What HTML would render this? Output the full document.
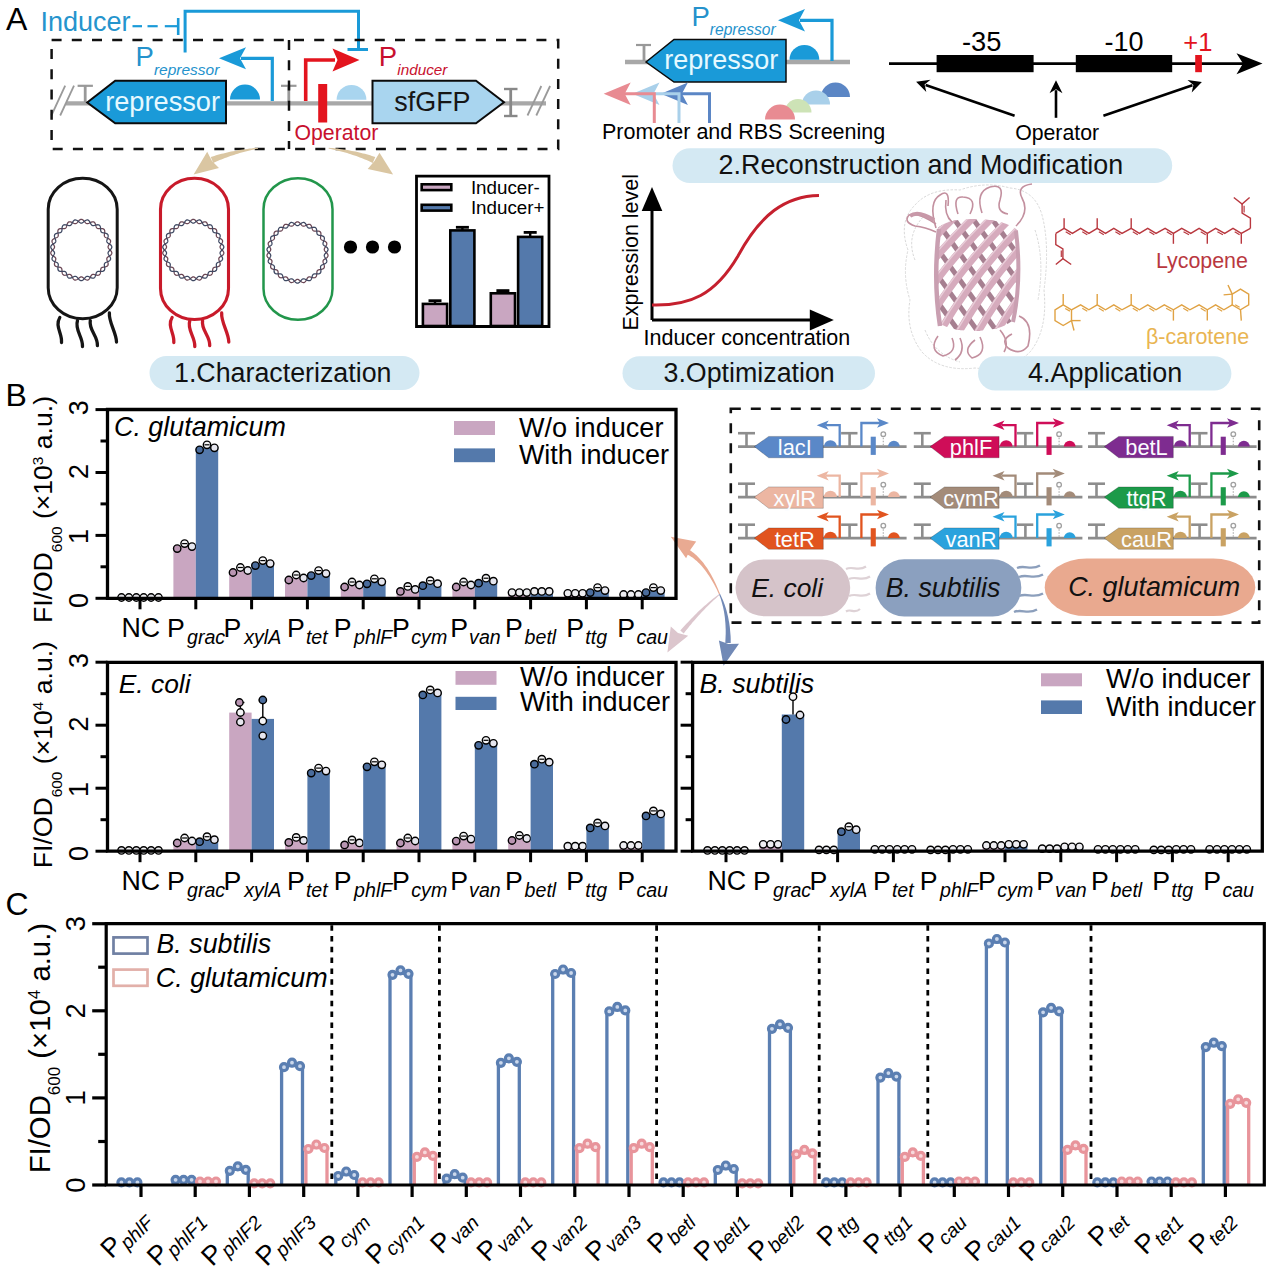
<!DOCTYPE html>
<html><head><meta charset="utf-8"><style>
html,body{margin:0;padding:0;background:#fff;overflow:hidden;}
svg{display:block;}
</style></head><body>
<svg width="1268" height="1271" viewBox="0 0 1268 1271" font-family='"Liberation Sans", sans-serif'>
<rect width="1268" height="1271" fill="#fff"/>
<text x="5.9" y="30.0" font-size="32">A</text>
<text x="40.5" y="31.0" font-size="27" fill="#2594cd">Inducer</text>
<line x1="132.5" y1="26.2" x2="142.0" y2="26.2" stroke="#1a9ad8" stroke-width="2.2" />
<line x1="147.5" y1="26.2" x2="157.7" y2="26.2" stroke="#1a9ad8" stroke-width="2.2" />
<line x1="164.8" y1="26.2" x2="177.0" y2="26.2" stroke="#1a9ad8" stroke-width="2.2" />
<line x1="178.2" y1="18.0" x2="178.2" y2="35.0" stroke="#1a9ad8" stroke-width="2.6" />
<path d="M185.1,52.5 V11.2 H358.5 V49.5" fill="none" stroke="#1a9ad8" stroke-width="3" />
<line x1="347.5" y1="49.5" x2="368.0" y2="49.5" stroke="#1a9ad8" stroke-width="3" />
<line x1="66.0" y1="103.3" x2="546.0" y2="103.3" stroke="#a8a8a8" stroke-width="4.3" />
<line x1="51.4" y1="115.5" x2="65.2" y2="85.6" stroke="#9a9a9a" stroke-width="1.8" />
<line x1="527.5" y1="115.5" x2="541.3" y2="86.0" stroke="#9a9a9a" stroke-width="1.8" />
<line x1="60.2" y1="115.5" x2="74.0" y2="85.6" stroke="#9a9a9a" stroke-width="1.8" />
<line x1="536.3" y1="115.5" x2="550.1" y2="86.0" stroke="#9a9a9a" stroke-width="1.8" />
<line x1="77.6" y1="85.8" x2="92.9" y2="85.8" stroke="#999" stroke-width="2.2" />
<line x1="85.2" y1="85.8" x2="85.2" y2="102.0" stroke="#999" stroke-width="2.8" />
<line x1="281.0" y1="85.8" x2="296.5" y2="85.8" stroke="#999" stroke-width="2.2" />
<line x1="288.8" y1="85.8" x2="288.8" y2="102.0" stroke="#999" stroke-width="2.8" />
<line x1="504.0" y1="89.0" x2="517.5" y2="89.0" stroke="#888" stroke-width="2.4" />
<line x1="504.0" y1="116.0" x2="517.5" y2="116.0" stroke="#888" stroke-width="2.4" />
<line x1="510.7" y1="89.0" x2="510.7" y2="116.0" stroke="#888" stroke-width="2.8" />
<path d="M87.2,102.5 L115.2,80.7 H226 V123.3 H115.2 Z" fill="#1a9ad8" stroke="#0b0b0b" stroke-width="2" />
<text x="105.2" y="110.5" font-size="27.2" fill="#e6f9ff">repressor</text>
<path d="M230,99.6 A15,15 0 0 1 260,99.6 Z" fill="#1a9ad8" stroke="none" stroke-width="0" />
<path d="M336.6,99.8 A14.9,14.9 0 0 1 366.4,99.8 Z" fill="#a9d5ef" stroke="none" stroke-width="0" />
<path d="M272.3,101 V58.3 H241" fill="none" stroke="#1a9ad8" stroke-width="3.2" />
<path d="M219.0,58.3 L246.0,47.3 L240.0,58.3 L246.0,69.3 Z" fill="#1a9ad8" stroke="none" stroke-width="0" />
<text x="135.6" y="66.3" font-size="27.5" fill="#2592cc">P</text>
<text x="153.9" y="74.5" font-size="15.5" fill="#2592cc" font-style="italic">repressor</text>
<path d="M305.7,101 V60 H335" fill="none" stroke="#e3141e" stroke-width="3.6" />
<path d="M359.5,60.0 L332.5,48.5 L337.5,60.0 L332.5,71.5 Z" fill="#e3141e" stroke="none" stroke-width="0" />
<text x="378.7" y="66.3" font-size="27.5" fill="#c8102e">P</text>
<text x="397.3" y="74.5" font-size="15.3" fill="#c8102e" font-style="italic">inducer</text>
<rect x="318.2" y="84.0" width="9.0" height="38.5" fill="#e3141e" stroke="none" stroke-width="0" rx="0" />
<text x="294.5" y="140.3" font-size="21.25" fill="#c8102e">Operator</text>
<path d="M372.5,80.7 H476 L504,102.3 L476,123.3 H372.5 Z" fill="#a9d5ef" stroke="#0b0b0b" stroke-width="2" />
<text x="394.3" y="110.5" font-size="26.9" fill="#161616">sfGFP</text>
<path d="M51.6,40.1 H558.2 V149 H51.6 Z" fill="none" stroke="#111" stroke-width="2.5" stroke-dasharray="10,10.2"/>
<line x1="289.0" y1="40.1" x2="289.0" y2="149.0" stroke="#111" stroke-width="2.5" stroke-dasharray="10,10.2"/>
<path d="M257.9,147.7 L255.7,147.9 L253.6,148.1 L251.5,148.4 L249.3,148.6 L247.2,148.9 L245.1,149.2 L243.1,149.5 L241.0,149.8 L239.0,150.1 L237.0,150.5 L235.0,150.9 L233.0,151.2 L231.1,151.6 L229.1,152.0 L227.2,152.5 L225.3,152.9 L223.4,153.4 L221.6,153.8 L219.7,154.3 L217.9,154.8 L216.1,155.3 L214.3,155.9 L212.5,156.4 L210.8,157.0 L213.2,163.0 L214.8,162.3 L216.4,161.5 L218.1,160.8 L219.7,160.1 L221.4,159.4 L223.2,158.7 L224.9,158.0 L226.7,157.4 L228.5,156.7 L230.3,156.1 L232.1,155.5 L234.0,154.9 L235.8,154.3 L237.8,153.7 L239.7,153.1 L241.6,152.6 L243.6,152.0 L245.6,151.5 L247.6,151.0 L249.7,150.5 L251.7,150.0 L253.8,149.6 L255.9,149.1 L258.1,148.7 Z" fill="#dac6a2" stroke="none" stroke-width="0" />
<path d="M193.6,174.5 L207.2,151.8 L212.0,161.0 L219.0,168.1 Z" fill="#dac6a2" stroke="none" stroke-width="0" />
<path d="M328.6,148.7 L330.8,149.1 L332.9,149.6 L335.0,150.0 L337.1,150.5 L339.1,151.0 L341.2,151.5 L343.2,152.0 L345.1,152.6 L347.1,153.1 L349.0,153.7 L350.8,154.3 L352.7,154.9 L354.5,155.5 L356.3,156.1 L358.1,156.7 L359.8,157.4 L361.5,158.0 L363.2,158.7 L364.9,159.4 L366.5,160.1 L368.1,160.8 L369.7,161.5 L371.2,162.2 L372.7,163.0 L375.3,157.0 L373.6,156.4 L371.9,155.9 L370.2,155.3 L368.4,154.8 L366.6,154.3 L364.9,153.8 L363.0,153.4 L361.2,152.9 L359.4,152.5 L357.5,152.0 L355.6,151.6 L353.6,151.2 L351.7,150.9 L349.7,150.5 L347.7,150.1 L345.7,149.8 L343.7,149.5 L341.6,149.2 L339.5,148.9 L337.4,148.6 L335.3,148.4 L333.1,148.1 L331.0,147.9 L328.8,147.7 Z" fill="#dac6a2" stroke="none" stroke-width="0" />
<path d="M393.1,174.5 L379.5,152.7 L374.5,161.0 L367.7,169.0 Z" fill="#dac6a2" stroke="none" stroke-width="0" />
<rect x="48.2" y="178.2" width="69.0" height="140.5" fill="none" stroke="#151515" stroke-width="3.0" rx="34.5" ry="31"/>
<g transform="translate(0.0,0)">
<path d="M59.8,317.5 C54.5,326 62.5,334 61.5,342.5" fill="none" stroke="#151515" stroke-width="3.3" stroke-linecap="round"/>
<path d="M77.5,320.5 C74.5,330 83,337 82.5,346.5" fill="none" stroke="#151515" stroke-width="3.3" stroke-linecap="round"/>
<path d="M90.3,320.5 C88.5,330 98,336 97.4,345.6" fill="none" stroke="#151515" stroke-width="3.3" stroke-linecap="round"/>
<path d="M109.4,313 C108.5,322 116.5,333 116.5,342" fill="none" stroke="#151515" stroke-width="3.3" stroke-linecap="round"/>
</g>
<path d="M110.10,250.00 L110.59,250.51 L111.03,251.04 L111.40,251.58 L111.67,252.12 L111.82,252.67 L111.83,253.21 L111.71,253.73 L111.45,254.24 L111.07,254.72 L110.60,255.17 L110.05,255.59 L109.47,255.99 L108.88,256.37 L108.32,256.74 L107.82,257.11 L107.40,257.48 L107.09,257.88 L106.88,258.31 L106.80,258.78 L106.82,259.29 L106.93,259.84 L107.12,260.43 L107.36,261.06 L107.61,261.71 L107.85,262.38 L108.04,263.04 L108.16,263.68 L108.18,264.29 L108.09,264.85 L107.89,265.35 L107.56,265.78 L107.12,266.13 L106.58,266.42 L105.96,266.64 L105.29,266.80 L104.60,266.93 L103.91,267.04 L103.25,267.15 L102.64,267.28 L102.10,267.45 L101.65,267.69 L101.29,268.00 L101.02,268.39 L100.83,268.86 L100.71,269.41 L100.65,270.03 L100.61,270.70 L100.57,271.40 L100.52,272.11 L100.42,272.79 L100.27,273.43 L100.04,273.99 L99.74,274.47 L99.35,274.84 L98.87,275.09 L98.32,275.24 L97.72,275.28 L97.07,275.23 L96.39,275.11 L95.70,274.94 L95.02,274.76 L94.37,274.59 L93.76,274.46 L93.20,274.41 L92.70,274.44 L92.24,274.57 L91.84,274.82 L91.47,275.18 L91.14,275.63 L90.83,276.17 L90.52,276.77 L90.20,277.39 L89.86,278.01 L89.50,278.60 L89.10,279.12 L88.67,279.54 L88.19,279.85 L87.68,280.03 L87.15,280.07 L86.59,279.98 L86.02,279.77 L85.44,279.46 L84.87,279.07 L84.31,278.64 L83.77,278.20 L83.24,277.78 L82.74,277.42 L82.25,277.14 L81.77,276.96 L81.30,276.90 L80.83,276.96 L80.35,277.14 L79.86,277.42 L79.36,277.78 L78.83,278.20 L78.29,278.64 L77.73,279.07 L77.16,279.46 L76.58,279.77 L76.01,279.98 L75.45,280.07 L74.92,280.03 L74.41,279.85 L73.93,279.54 L73.50,279.12 L73.10,278.60 L72.74,278.01 L72.40,277.39 L72.08,276.77 L71.77,276.17 L71.46,275.63 L71.13,275.18 L70.76,274.82 L70.36,274.57 L69.90,274.44 L69.40,274.41 L68.84,274.46 L68.23,274.59 L67.58,274.76 L66.90,274.94 L66.21,275.11 L65.53,275.23 L64.88,275.28 L64.28,275.24 L63.73,275.09 L63.25,274.84 L62.86,274.47 L62.56,273.99 L62.33,273.43 L62.18,272.79 L62.08,272.11 L62.03,271.40 L61.99,270.70 L61.95,270.03 L61.89,269.41 L61.77,268.86 L61.58,268.39 L61.31,268.00 L60.95,267.69 L60.50,267.45 L59.96,267.28 L59.35,267.15 L58.69,267.04 L58.00,266.93 L57.31,266.80 L56.64,266.64 L56.02,266.42 L55.48,266.13 L55.04,265.78 L54.71,265.35 L54.51,264.85 L54.42,264.29 L54.44,263.68 L54.56,263.04 L54.75,262.38 L54.99,261.71 L55.24,261.06 L55.48,260.43 L55.67,259.84 L55.78,259.29 L55.80,258.78 L55.72,258.31 L55.51,257.88 L55.20,257.48 L54.78,257.11 L54.28,256.74 L53.72,256.37 L53.13,255.99 L52.55,255.59 L52.00,255.17 L51.53,254.72 L51.15,254.24 L50.89,253.73 L50.77,253.21 L50.78,252.67 L50.93,252.12 L51.20,251.58 L51.57,251.04 L52.01,250.51 L52.50,250.00 L53.00,249.51 L53.47,249.03 L53.88,248.56 L54.21,248.11 L54.44,247.65 L54.55,247.19 L54.54,246.71 L54.41,246.22 L54.18,245.70 L53.87,245.16 L53.51,244.60 L53.13,244.01 L52.76,243.41 L52.43,242.80 L52.18,242.20 L52.03,241.61 L52.00,241.04 L52.10,240.51 L52.33,240.03 L52.69,239.59 L53.16,239.20 L53.72,238.86 L54.34,238.55 L54.99,238.29 L55.64,238.04 L56.27,237.79 L56.84,237.54 L57.32,237.25 L57.72,236.93 L58.00,236.55 L58.19,236.11 L58.27,235.61 L58.27,235.05 L58.21,234.43 L58.11,233.76 L58.00,233.07 L57.91,232.37 L57.86,231.68 L57.87,231.03 L57.98,230.43 L58.18,229.90 L58.49,229.46 L58.89,229.11 L59.40,228.85 L59.99,228.69 L60.63,228.60 L61.32,228.58 L62.03,228.60 L62.73,228.64 L63.40,228.67 L64.02,228.66 L64.58,228.60 L65.07,228.47 L65.49,228.24 L65.83,227.91 L66.12,227.49 L66.35,226.97 L66.54,226.38 L66.72,225.74 L66.90,225.06 L67.10,224.38 L67.33,223.73 L67.62,223.14 L67.95,222.64 L68.35,222.24 L68.81,221.95 L69.33,221.80 L69.89,221.77 L70.50,221.86 L71.12,222.04 L71.76,222.30 L72.40,222.61 L73.02,222.93 L73.62,223.23 L74.19,223.48 L74.73,223.65 L75.23,223.73 L75.71,223.69 L76.15,223.53 L76.58,223.26 L77.00,222.88 L77.42,222.42 L77.85,221.90 L78.29,221.36 L78.75,220.82 L79.22,220.32 L79.72,219.90 L80.24,219.57 L80.77,219.37 L81.30,219.30 L81.83,219.37 L82.36,219.57 L82.88,219.90 L83.38,220.32 L83.85,220.82 L84.31,221.36 L84.75,221.90 L85.18,222.42 L85.60,222.88 L86.02,223.26 L86.45,223.53 L86.89,223.69 L87.37,223.73 L87.87,223.65 L88.41,223.48 L88.98,223.23 L89.58,222.93 L90.20,222.61 L90.84,222.30 L91.48,222.04 L92.10,221.86 L92.71,221.77 L93.27,221.80 L93.79,221.95 L94.25,222.24 L94.65,222.64 L94.98,223.14 L95.27,223.73 L95.50,224.38 L95.70,225.06 L95.88,225.74 L96.06,226.38 L96.25,226.97 L96.48,227.49 L96.77,227.91 L97.11,228.24 L97.53,228.47 L98.02,228.60 L98.58,228.66 L99.20,228.67 L99.87,228.64 L100.57,228.60 L101.28,228.58 L101.97,228.60 L102.61,228.69 L103.20,228.85 L103.71,229.11 L104.11,229.46 L104.42,229.90 L104.62,230.43 L104.73,231.03 L104.74,231.68 L104.69,232.37 L104.60,233.07 L104.49,233.76 L104.39,234.43 L104.33,235.05 L104.33,235.61 L104.41,236.11 L104.60,236.55 L104.88,236.93 L105.28,237.25 L105.76,237.54 L106.33,237.79 L106.96,238.04 L107.61,238.29 L108.26,238.55 L108.88,238.86 L109.44,239.20 L109.91,239.59 L110.27,240.03 L110.50,240.51 L110.60,241.04 L110.57,241.61 L110.42,242.20 L110.17,242.80 L109.84,243.41 L109.47,244.01 L109.09,244.60 L108.73,245.16 L108.42,245.70 L108.19,246.22 L108.06,246.71 L108.05,247.19 L108.16,247.65 L108.39,248.11 L108.72,248.56 L109.13,249.03 L109.60,249.51 L110.10,250.00 Z" fill="none" stroke="#6a4654" stroke-width="1.25" />
<path d="M110.10,250.00 L109.60,250.49 L109.13,250.97 L108.72,251.44 L108.39,251.89 L108.16,252.35 L108.05,252.81 L108.06,253.29 L108.19,253.78 L108.42,254.30 L108.73,254.84 L109.09,255.40 L109.47,255.99 L109.84,256.59 L110.17,257.20 L110.42,257.80 L110.57,258.39 L110.60,258.96 L110.50,259.49 L110.27,259.97 L109.91,260.41 L109.44,260.80 L108.88,261.14 L108.26,261.45 L107.61,261.71 L106.96,261.96 L106.33,262.21 L105.76,262.46 L105.28,262.75 L104.88,263.07 L104.60,263.45 L104.41,263.89 L104.33,264.39 L104.33,264.95 L104.39,265.57 L104.49,266.24 L104.60,266.93 L104.69,267.63 L104.74,268.32 L104.73,268.97 L104.62,269.57 L104.42,270.10 L104.11,270.54 L103.71,270.89 L103.20,271.15 L102.61,271.31 L101.97,271.40 L101.28,271.42 L100.57,271.40 L99.87,271.36 L99.20,271.33 L98.58,271.34 L98.02,271.40 L97.53,271.53 L97.11,271.76 L96.77,272.09 L96.48,272.51 L96.25,273.03 L96.06,273.62 L95.88,274.26 L95.70,274.94 L95.50,275.62 L95.27,276.27 L94.98,276.86 L94.65,277.36 L94.25,277.76 L93.79,278.05 L93.27,278.20 L92.71,278.23 L92.10,278.14 L91.48,277.96 L90.84,277.70 L90.20,277.39 L89.58,277.07 L88.98,276.77 L88.41,276.52 L87.87,276.35 L87.37,276.27 L86.89,276.31 L86.45,276.47 L86.02,276.74 L85.60,277.12 L85.18,277.58 L84.75,278.10 L84.31,278.64 L83.85,279.18 L83.38,279.68 L82.88,280.10 L82.36,280.43 L81.83,280.63 L81.30,280.70 L80.77,280.63 L80.24,280.43 L79.72,280.10 L79.22,279.68 L78.75,279.18 L78.29,278.64 L77.85,278.10 L77.42,277.58 L77.00,277.12 L76.58,276.74 L76.15,276.47 L75.71,276.31 L75.23,276.27 L74.73,276.35 L74.19,276.52 L73.62,276.77 L73.02,277.07 L72.40,277.39 L71.76,277.70 L71.12,277.96 L70.50,278.14 L69.89,278.23 L69.33,278.20 L68.81,278.05 L68.35,277.76 L67.95,277.36 L67.62,276.86 L67.33,276.27 L67.10,275.62 L66.90,274.94 L66.72,274.26 L66.54,273.62 L66.35,273.03 L66.12,272.51 L65.83,272.09 L65.49,271.76 L65.07,271.53 L64.58,271.40 L64.02,271.34 L63.40,271.33 L62.73,271.36 L62.03,271.40 L61.32,271.42 L60.63,271.40 L59.99,271.31 L59.40,271.15 L58.89,270.89 L58.49,270.54 L58.18,270.10 L57.98,269.57 L57.87,268.97 L57.86,268.32 L57.91,267.63 L58.00,266.93 L58.11,266.24 L58.21,265.57 L58.27,264.95 L58.27,264.39 L58.19,263.89 L58.00,263.45 L57.72,263.07 L57.32,262.75 L56.84,262.46 L56.27,262.21 L55.64,261.96 L54.99,261.71 L54.34,261.45 L53.72,261.14 L53.16,260.80 L52.69,260.41 L52.33,259.97 L52.10,259.49 L52.00,258.96 L52.03,258.39 L52.18,257.80 L52.43,257.20 L52.76,256.59 L53.13,255.99 L53.51,255.40 L53.87,254.84 L54.18,254.30 L54.41,253.78 L54.54,253.29 L54.55,252.81 L54.44,252.35 L54.21,251.89 L53.88,251.44 L53.47,250.97 L53.00,250.49 L52.50,250.00 L52.01,249.49 L51.57,248.96 L51.20,248.42 L50.93,247.88 L50.78,247.33 L50.77,246.79 L50.89,246.27 L51.15,245.76 L51.53,245.28 L52.00,244.83 L52.55,244.41 L53.13,244.01 L53.72,243.63 L54.28,243.26 L54.78,242.89 L55.20,242.52 L55.51,242.12 L55.72,241.69 L55.80,241.22 L55.78,240.71 L55.67,240.16 L55.48,239.57 L55.24,238.94 L54.99,238.29 L54.75,237.62 L54.56,236.96 L54.44,236.32 L54.42,235.71 L54.51,235.15 L54.71,234.65 L55.04,234.22 L55.48,233.87 L56.02,233.58 L56.64,233.36 L57.31,233.20 L58.00,233.07 L58.69,232.96 L59.35,232.85 L59.96,232.72 L60.50,232.55 L60.95,232.31 L61.31,232.00 L61.58,231.61 L61.77,231.14 L61.89,230.59 L61.95,229.97 L61.99,229.30 L62.03,228.60 L62.08,227.89 L62.18,227.21 L62.33,226.57 L62.56,226.01 L62.86,225.53 L63.25,225.16 L63.73,224.91 L64.28,224.76 L64.88,224.72 L65.53,224.77 L66.21,224.89 L66.90,225.06 L67.58,225.24 L68.23,225.41 L68.84,225.54 L69.40,225.59 L69.90,225.56 L70.36,225.43 L70.76,225.18 L71.13,224.82 L71.46,224.37 L71.77,223.83 L72.08,223.23 L72.40,222.61 L72.74,221.99 L73.10,221.40 L73.50,220.88 L73.93,220.46 L74.41,220.15 L74.92,219.97 L75.45,219.93 L76.01,220.02 L76.58,220.23 L77.16,220.54 L77.73,220.93 L78.29,221.36 L78.83,221.80 L79.36,222.22 L79.86,222.58 L80.35,222.86 L80.83,223.04 L81.30,223.10 L81.77,223.04 L82.25,222.86 L82.74,222.58 L83.24,222.22 L83.77,221.80 L84.31,221.36 L84.87,220.93 L85.44,220.54 L86.02,220.23 L86.59,220.02 L87.15,219.93 L87.68,219.97 L88.19,220.15 L88.67,220.46 L89.10,220.88 L89.50,221.40 L89.86,221.99 L90.20,222.61 L90.52,223.23 L90.83,223.83 L91.14,224.37 L91.47,224.82 L91.84,225.18 L92.24,225.43 L92.70,225.56 L93.20,225.59 L93.76,225.54 L94.37,225.41 L95.02,225.24 L95.70,225.06 L96.39,224.89 L97.07,224.77 L97.72,224.72 L98.32,224.76 L98.87,224.91 L99.35,225.16 L99.74,225.53 L100.04,226.01 L100.27,226.57 L100.42,227.21 L100.52,227.89 L100.57,228.60 L100.61,229.30 L100.65,229.97 L100.71,230.59 L100.83,231.14 L101.02,231.61 L101.29,232.00 L101.65,232.31 L102.10,232.55 L102.64,232.72 L103.25,232.85 L103.91,232.96 L104.60,233.07 L105.29,233.20 L105.96,233.36 L106.58,233.58 L107.12,233.87 L107.56,234.22 L107.89,234.65 L108.09,235.15 L108.18,235.71 L108.16,236.32 L108.04,236.96 L107.85,237.62 L107.61,238.29 L107.36,238.94 L107.12,239.57 L106.93,240.16 L106.82,240.71 L106.80,241.22 L106.88,241.69 L107.09,242.12 L107.40,242.52 L107.82,242.89 L108.32,243.26 L108.88,243.63 L109.47,244.01 L110.05,244.41 L110.60,244.83 L111.07,245.28 L111.45,245.76 L111.71,246.27 L111.83,246.79 L111.82,247.33 L111.67,247.88 L111.40,248.42 L111.03,248.96 L110.59,249.49 L110.10,250.00 Z" fill="none" stroke="#3e4862" stroke-width="1.25" />
<rect x="160.5" y="178.2" width="68.0" height="141.3" fill="none" stroke="#c81a2a" stroke-width="3.1" rx="34.5" ry="31"/>
<g transform="translate(112.3,0)">
<path d="M59.8,317.5 C54.5,326 62.5,334 61.5,342.5" fill="none" stroke="#c81a2a" stroke-width="3.3" stroke-linecap="round"/>
<path d="M77.5,320.5 C74.5,330 83,337 82.5,346.5" fill="none" stroke="#c81a2a" stroke-width="3.3" stroke-linecap="round"/>
<path d="M90.3,320.5 C88.5,330 98,336 97.4,345.6" fill="none" stroke="#c81a2a" stroke-width="3.3" stroke-linecap="round"/>
<path d="M109.4,313 C108.5,322 116.5,333 116.5,342" fill="none" stroke="#c81a2a" stroke-width="3.3" stroke-linecap="round"/>
</g>
<path d="M222.10,250.00 L222.59,250.51 L223.03,251.04 L223.40,251.58 L223.67,252.12 L223.82,252.67 L223.83,253.21 L223.71,253.73 L223.45,254.24 L223.07,254.72 L222.60,255.17 L222.05,255.59 L221.47,255.99 L220.88,256.37 L220.32,256.74 L219.82,257.11 L219.40,257.48 L219.09,257.88 L218.88,258.31 L218.80,258.78 L218.82,259.29 L218.93,259.84 L219.12,260.43 L219.36,261.06 L219.61,261.71 L219.85,262.38 L220.04,263.04 L220.16,263.68 L220.18,264.29 L220.09,264.85 L219.89,265.35 L219.56,265.78 L219.12,266.13 L218.58,266.42 L217.96,266.64 L217.29,266.80 L216.60,266.93 L215.91,267.04 L215.25,267.15 L214.64,267.28 L214.10,267.45 L213.65,267.69 L213.29,268.00 L213.02,268.39 L212.83,268.86 L212.71,269.41 L212.65,270.03 L212.61,270.70 L212.57,271.40 L212.52,272.11 L212.42,272.79 L212.27,273.43 L212.04,273.99 L211.74,274.47 L211.35,274.84 L210.87,275.09 L210.32,275.24 L209.72,275.28 L209.07,275.23 L208.39,275.11 L207.70,274.94 L207.02,274.76 L206.37,274.59 L205.76,274.46 L205.20,274.41 L204.70,274.44 L204.24,274.57 L203.84,274.82 L203.47,275.18 L203.14,275.63 L202.83,276.17 L202.52,276.77 L202.20,277.39 L201.86,278.01 L201.50,278.60 L201.10,279.12 L200.67,279.54 L200.19,279.85 L199.68,280.03 L199.15,280.07 L198.59,279.98 L198.02,279.77 L197.44,279.46 L196.87,279.07 L196.31,278.64 L195.77,278.20 L195.24,277.78 L194.74,277.42 L194.25,277.14 L193.77,276.96 L193.30,276.90 L192.83,276.96 L192.35,277.14 L191.86,277.42 L191.36,277.78 L190.83,278.20 L190.29,278.64 L189.73,279.07 L189.16,279.46 L188.58,279.77 L188.01,279.98 L187.45,280.07 L186.92,280.03 L186.41,279.85 L185.93,279.54 L185.50,279.12 L185.10,278.60 L184.74,278.01 L184.40,277.39 L184.08,276.77 L183.77,276.17 L183.46,275.63 L183.13,275.18 L182.76,274.82 L182.36,274.57 L181.90,274.44 L181.40,274.41 L180.84,274.46 L180.23,274.59 L179.58,274.76 L178.90,274.94 L178.21,275.11 L177.53,275.23 L176.88,275.28 L176.28,275.24 L175.73,275.09 L175.25,274.84 L174.86,274.47 L174.56,273.99 L174.33,273.43 L174.18,272.79 L174.08,272.11 L174.03,271.40 L173.99,270.70 L173.95,270.03 L173.89,269.41 L173.77,268.86 L173.58,268.39 L173.31,268.00 L172.95,267.69 L172.50,267.45 L171.96,267.28 L171.35,267.15 L170.69,267.04 L170.00,266.93 L169.31,266.80 L168.64,266.64 L168.02,266.42 L167.48,266.13 L167.04,265.78 L166.71,265.35 L166.51,264.85 L166.42,264.29 L166.44,263.68 L166.56,263.04 L166.75,262.38 L166.99,261.71 L167.24,261.06 L167.48,260.43 L167.67,259.84 L167.78,259.29 L167.80,258.78 L167.72,258.31 L167.51,257.88 L167.20,257.48 L166.78,257.11 L166.28,256.74 L165.72,256.37 L165.13,255.99 L164.55,255.59 L164.00,255.17 L163.53,254.72 L163.15,254.24 L162.89,253.73 L162.77,253.21 L162.78,252.67 L162.93,252.12 L163.20,251.58 L163.57,251.04 L164.01,250.51 L164.50,250.00 L165.00,249.51 L165.47,249.03 L165.88,248.56 L166.21,248.11 L166.44,247.65 L166.55,247.19 L166.54,246.71 L166.41,246.22 L166.18,245.70 L165.87,245.16 L165.51,244.60 L165.13,244.01 L164.76,243.41 L164.43,242.80 L164.18,242.20 L164.03,241.61 L164.00,241.04 L164.10,240.51 L164.33,240.03 L164.69,239.59 L165.16,239.20 L165.72,238.86 L166.34,238.55 L166.99,238.29 L167.64,238.04 L168.27,237.79 L168.84,237.54 L169.32,237.25 L169.72,236.93 L170.00,236.55 L170.19,236.11 L170.27,235.61 L170.27,235.05 L170.21,234.43 L170.11,233.76 L170.00,233.07 L169.91,232.37 L169.86,231.68 L169.87,231.03 L169.98,230.43 L170.18,229.90 L170.49,229.46 L170.89,229.11 L171.40,228.85 L171.99,228.69 L172.63,228.60 L173.32,228.58 L174.03,228.60 L174.73,228.64 L175.40,228.67 L176.02,228.66 L176.58,228.60 L177.07,228.47 L177.49,228.24 L177.83,227.91 L178.12,227.49 L178.35,226.97 L178.54,226.38 L178.72,225.74 L178.90,225.06 L179.10,224.38 L179.33,223.73 L179.62,223.14 L179.95,222.64 L180.35,222.24 L180.81,221.95 L181.33,221.80 L181.89,221.77 L182.50,221.86 L183.12,222.04 L183.76,222.30 L184.40,222.61 L185.02,222.93 L185.62,223.23 L186.19,223.48 L186.73,223.65 L187.23,223.73 L187.71,223.69 L188.15,223.53 L188.58,223.26 L189.00,222.88 L189.42,222.42 L189.85,221.90 L190.29,221.36 L190.75,220.82 L191.22,220.32 L191.72,219.90 L192.24,219.57 L192.77,219.37 L193.30,219.30 L193.83,219.37 L194.36,219.57 L194.88,219.90 L195.38,220.32 L195.85,220.82 L196.31,221.36 L196.75,221.90 L197.18,222.42 L197.60,222.88 L198.02,223.26 L198.45,223.53 L198.89,223.69 L199.37,223.73 L199.87,223.65 L200.41,223.48 L200.98,223.23 L201.58,222.93 L202.20,222.61 L202.84,222.30 L203.48,222.04 L204.10,221.86 L204.71,221.77 L205.27,221.80 L205.79,221.95 L206.25,222.24 L206.65,222.64 L206.98,223.14 L207.27,223.73 L207.50,224.38 L207.70,225.06 L207.88,225.74 L208.06,226.38 L208.25,226.97 L208.48,227.49 L208.77,227.91 L209.11,228.24 L209.53,228.47 L210.02,228.60 L210.58,228.66 L211.20,228.67 L211.87,228.64 L212.57,228.60 L213.28,228.58 L213.97,228.60 L214.61,228.69 L215.20,228.85 L215.71,229.11 L216.11,229.46 L216.42,229.90 L216.62,230.43 L216.73,231.03 L216.74,231.68 L216.69,232.37 L216.60,233.07 L216.49,233.76 L216.39,234.43 L216.33,235.05 L216.33,235.61 L216.41,236.11 L216.60,236.55 L216.88,236.93 L217.28,237.25 L217.76,237.54 L218.33,237.79 L218.96,238.04 L219.61,238.29 L220.26,238.55 L220.88,238.86 L221.44,239.20 L221.91,239.59 L222.27,240.03 L222.50,240.51 L222.60,241.04 L222.57,241.61 L222.42,242.20 L222.17,242.80 L221.84,243.41 L221.47,244.01 L221.09,244.60 L220.73,245.16 L220.42,245.70 L220.19,246.22 L220.06,246.71 L220.05,247.19 L220.16,247.65 L220.39,248.11 L220.72,248.56 L221.13,249.03 L221.60,249.51 L222.10,250.00 Z" fill="none" stroke="#6a4654" stroke-width="1.25" />
<path d="M222.10,250.00 L221.60,250.49 L221.13,250.97 L220.72,251.44 L220.39,251.89 L220.16,252.35 L220.05,252.81 L220.06,253.29 L220.19,253.78 L220.42,254.30 L220.73,254.84 L221.09,255.40 L221.47,255.99 L221.84,256.59 L222.17,257.20 L222.42,257.80 L222.57,258.39 L222.60,258.96 L222.50,259.49 L222.27,259.97 L221.91,260.41 L221.44,260.80 L220.88,261.14 L220.26,261.45 L219.61,261.71 L218.96,261.96 L218.33,262.21 L217.76,262.46 L217.28,262.75 L216.88,263.07 L216.60,263.45 L216.41,263.89 L216.33,264.39 L216.33,264.95 L216.39,265.57 L216.49,266.24 L216.60,266.93 L216.69,267.63 L216.74,268.32 L216.73,268.97 L216.62,269.57 L216.42,270.10 L216.11,270.54 L215.71,270.89 L215.20,271.15 L214.61,271.31 L213.97,271.40 L213.28,271.42 L212.57,271.40 L211.87,271.36 L211.20,271.33 L210.58,271.34 L210.02,271.40 L209.53,271.53 L209.11,271.76 L208.77,272.09 L208.48,272.51 L208.25,273.03 L208.06,273.62 L207.88,274.26 L207.70,274.94 L207.50,275.62 L207.27,276.27 L206.98,276.86 L206.65,277.36 L206.25,277.76 L205.79,278.05 L205.27,278.20 L204.71,278.23 L204.10,278.14 L203.48,277.96 L202.84,277.70 L202.20,277.39 L201.58,277.07 L200.98,276.77 L200.41,276.52 L199.87,276.35 L199.37,276.27 L198.89,276.31 L198.45,276.47 L198.02,276.74 L197.60,277.12 L197.18,277.58 L196.75,278.10 L196.31,278.64 L195.85,279.18 L195.38,279.68 L194.88,280.10 L194.36,280.43 L193.83,280.63 L193.30,280.70 L192.77,280.63 L192.24,280.43 L191.72,280.10 L191.22,279.68 L190.75,279.18 L190.29,278.64 L189.85,278.10 L189.42,277.58 L189.00,277.12 L188.58,276.74 L188.15,276.47 L187.71,276.31 L187.23,276.27 L186.73,276.35 L186.19,276.52 L185.62,276.77 L185.02,277.07 L184.40,277.39 L183.76,277.70 L183.12,277.96 L182.50,278.14 L181.89,278.23 L181.33,278.20 L180.81,278.05 L180.35,277.76 L179.95,277.36 L179.62,276.86 L179.33,276.27 L179.10,275.62 L178.90,274.94 L178.72,274.26 L178.54,273.62 L178.35,273.03 L178.12,272.51 L177.83,272.09 L177.49,271.76 L177.07,271.53 L176.58,271.40 L176.02,271.34 L175.40,271.33 L174.73,271.36 L174.03,271.40 L173.32,271.42 L172.63,271.40 L171.99,271.31 L171.40,271.15 L170.89,270.89 L170.49,270.54 L170.18,270.10 L169.98,269.57 L169.87,268.97 L169.86,268.32 L169.91,267.63 L170.00,266.93 L170.11,266.24 L170.21,265.57 L170.27,264.95 L170.27,264.39 L170.19,263.89 L170.00,263.45 L169.72,263.07 L169.32,262.75 L168.84,262.46 L168.27,262.21 L167.64,261.96 L166.99,261.71 L166.34,261.45 L165.72,261.14 L165.16,260.80 L164.69,260.41 L164.33,259.97 L164.10,259.49 L164.00,258.96 L164.03,258.39 L164.18,257.80 L164.43,257.20 L164.76,256.59 L165.13,255.99 L165.51,255.40 L165.87,254.84 L166.18,254.30 L166.41,253.78 L166.54,253.29 L166.55,252.81 L166.44,252.35 L166.21,251.89 L165.88,251.44 L165.47,250.97 L165.00,250.49 L164.50,250.00 L164.01,249.49 L163.57,248.96 L163.20,248.42 L162.93,247.88 L162.78,247.33 L162.77,246.79 L162.89,246.27 L163.15,245.76 L163.53,245.28 L164.00,244.83 L164.55,244.41 L165.13,244.01 L165.72,243.63 L166.28,243.26 L166.78,242.89 L167.20,242.52 L167.51,242.12 L167.72,241.69 L167.80,241.22 L167.78,240.71 L167.67,240.16 L167.48,239.57 L167.24,238.94 L166.99,238.29 L166.75,237.62 L166.56,236.96 L166.44,236.32 L166.42,235.71 L166.51,235.15 L166.71,234.65 L167.04,234.22 L167.48,233.87 L168.02,233.58 L168.64,233.36 L169.31,233.20 L170.00,233.07 L170.69,232.96 L171.35,232.85 L171.96,232.72 L172.50,232.55 L172.95,232.31 L173.31,232.00 L173.58,231.61 L173.77,231.14 L173.89,230.59 L173.95,229.97 L173.99,229.30 L174.03,228.60 L174.08,227.89 L174.18,227.21 L174.33,226.57 L174.56,226.01 L174.86,225.53 L175.25,225.16 L175.73,224.91 L176.28,224.76 L176.88,224.72 L177.53,224.77 L178.21,224.89 L178.90,225.06 L179.58,225.24 L180.23,225.41 L180.84,225.54 L181.40,225.59 L181.90,225.56 L182.36,225.43 L182.76,225.18 L183.13,224.82 L183.46,224.37 L183.77,223.83 L184.08,223.23 L184.40,222.61 L184.74,221.99 L185.10,221.40 L185.50,220.88 L185.93,220.46 L186.41,220.15 L186.92,219.97 L187.45,219.93 L188.01,220.02 L188.58,220.23 L189.16,220.54 L189.73,220.93 L190.29,221.36 L190.83,221.80 L191.36,222.22 L191.86,222.58 L192.35,222.86 L192.83,223.04 L193.30,223.10 L193.77,223.04 L194.25,222.86 L194.74,222.58 L195.24,222.22 L195.77,221.80 L196.31,221.36 L196.87,220.93 L197.44,220.54 L198.02,220.23 L198.59,220.02 L199.15,219.93 L199.68,219.97 L200.19,220.15 L200.67,220.46 L201.10,220.88 L201.50,221.40 L201.86,221.99 L202.20,222.61 L202.52,223.23 L202.83,223.83 L203.14,224.37 L203.47,224.82 L203.84,225.18 L204.24,225.43 L204.70,225.56 L205.20,225.59 L205.76,225.54 L206.37,225.41 L207.02,225.24 L207.70,225.06 L208.39,224.89 L209.07,224.77 L209.72,224.72 L210.32,224.76 L210.87,224.91 L211.35,225.16 L211.74,225.53 L212.04,226.01 L212.27,226.57 L212.42,227.21 L212.52,227.89 L212.57,228.60 L212.61,229.30 L212.65,229.97 L212.71,230.59 L212.83,231.14 L213.02,231.61 L213.29,232.00 L213.65,232.31 L214.10,232.55 L214.64,232.72 L215.25,232.85 L215.91,232.96 L216.60,233.07 L217.29,233.20 L217.96,233.36 L218.58,233.58 L219.12,233.87 L219.56,234.22 L219.89,234.65 L220.09,235.15 L220.18,235.71 L220.16,236.32 L220.04,236.96 L219.85,237.62 L219.61,238.29 L219.36,238.94 L219.12,239.57 L218.93,240.16 L218.82,240.71 L218.80,241.22 L218.88,241.69 L219.09,242.12 L219.40,242.52 L219.82,242.89 L220.32,243.26 L220.88,243.63 L221.47,244.01 L222.05,244.41 L222.60,244.83 L223.07,245.28 L223.45,245.76 L223.71,246.27 L223.83,246.79 L223.82,247.33 L223.67,247.88 L223.40,248.42 L223.03,248.96 L222.59,249.49 L222.10,250.00 Z" fill="none" stroke="#3e4862" stroke-width="1.25" />
<rect x="263.5" y="178.2" width="69.0" height="141.6" fill="none" stroke="#22964b" stroke-width="2.5" rx="34.5" ry="31"/>
<path d="M326.30,252.50 L326.79,253.01 L327.23,253.54 L327.60,254.08 L327.87,254.62 L328.02,255.17 L328.03,255.71 L327.91,256.23 L327.65,256.74 L327.27,257.22 L326.80,257.67 L326.25,258.09 L325.67,258.49 L325.08,258.87 L324.52,259.24 L324.02,259.61 L323.60,259.98 L323.29,260.38 L323.08,260.81 L323.00,261.28 L323.02,261.79 L323.13,262.34 L323.32,262.93 L323.56,263.56 L323.81,264.21 L324.05,264.88 L324.24,265.54 L324.36,266.18 L324.38,266.79 L324.29,267.35 L324.09,267.85 L323.76,268.28 L323.32,268.63 L322.78,268.92 L322.16,269.14 L321.49,269.30 L320.80,269.43 L320.11,269.54 L319.45,269.65 L318.84,269.78 L318.30,269.95 L317.85,270.19 L317.49,270.50 L317.22,270.89 L317.03,271.36 L316.91,271.91 L316.85,272.53 L316.81,273.20 L316.77,273.90 L316.72,274.61 L316.62,275.29 L316.47,275.93 L316.24,276.49 L315.94,276.97 L315.55,277.34 L315.07,277.59 L314.52,277.74 L313.92,277.78 L313.27,277.73 L312.59,277.61 L311.90,277.44 L311.22,277.26 L310.57,277.09 L309.96,276.96 L309.40,276.91 L308.90,276.94 L308.44,277.07 L308.04,277.32 L307.67,277.68 L307.34,278.13 L307.03,278.67 L306.72,279.27 L306.40,279.89 L306.06,280.51 L305.70,281.10 L305.30,281.62 L304.87,282.04 L304.39,282.35 L303.88,282.53 L303.35,282.57 L302.79,282.48 L302.22,282.27 L301.64,281.96 L301.07,281.57 L300.51,281.14 L299.97,280.70 L299.44,280.28 L298.94,279.92 L298.45,279.64 L297.97,279.46 L297.50,279.40 L297.03,279.46 L296.55,279.64 L296.06,279.92 L295.56,280.28 L295.03,280.70 L294.49,281.14 L293.93,281.57 L293.36,281.96 L292.78,282.27 L292.21,282.48 L291.65,282.57 L291.12,282.53 L290.61,282.35 L290.13,282.04 L289.70,281.62 L289.30,281.10 L288.94,280.51 L288.60,279.89 L288.28,279.27 L287.97,278.67 L287.66,278.13 L287.33,277.68 L286.96,277.32 L286.56,277.07 L286.10,276.94 L285.60,276.91 L285.04,276.96 L284.43,277.09 L283.78,277.26 L283.10,277.44 L282.41,277.61 L281.73,277.73 L281.08,277.78 L280.48,277.74 L279.93,277.59 L279.45,277.34 L279.06,276.97 L278.76,276.49 L278.53,275.93 L278.38,275.29 L278.28,274.61 L278.23,273.90 L278.19,273.20 L278.15,272.53 L278.09,271.91 L277.97,271.36 L277.78,270.89 L277.51,270.50 L277.15,270.19 L276.70,269.95 L276.16,269.78 L275.55,269.65 L274.89,269.54 L274.20,269.43 L273.51,269.30 L272.84,269.14 L272.22,268.92 L271.68,268.63 L271.24,268.28 L270.91,267.85 L270.71,267.35 L270.62,266.79 L270.64,266.18 L270.76,265.54 L270.95,264.88 L271.19,264.21 L271.44,263.56 L271.68,262.93 L271.87,262.34 L271.98,261.79 L272.00,261.28 L271.92,260.81 L271.71,260.38 L271.40,259.98 L270.98,259.61 L270.48,259.24 L269.92,258.87 L269.33,258.49 L268.75,258.09 L268.20,257.67 L267.73,257.22 L267.35,256.74 L267.09,256.23 L266.97,255.71 L266.98,255.17 L267.13,254.62 L267.40,254.08 L267.77,253.54 L268.21,253.01 L268.70,252.50 L269.20,252.01 L269.67,251.53 L270.08,251.06 L270.41,250.61 L270.64,250.15 L270.75,249.69 L270.74,249.21 L270.61,248.72 L270.38,248.20 L270.07,247.66 L269.71,247.10 L269.33,246.51 L268.96,245.91 L268.63,245.30 L268.38,244.70 L268.23,244.11 L268.20,243.54 L268.30,243.01 L268.53,242.53 L268.89,242.09 L269.36,241.70 L269.92,241.36 L270.54,241.05 L271.19,240.79 L271.84,240.54 L272.47,240.29 L273.04,240.04 L273.52,239.75 L273.92,239.43 L274.20,239.05 L274.39,238.61 L274.47,238.11 L274.47,237.55 L274.41,236.93 L274.31,236.26 L274.20,235.57 L274.11,234.87 L274.06,234.18 L274.07,233.53 L274.18,232.93 L274.38,232.40 L274.69,231.96 L275.09,231.61 L275.60,231.35 L276.19,231.19 L276.83,231.10 L277.52,231.08 L278.23,231.10 L278.93,231.14 L279.60,231.17 L280.22,231.16 L280.78,231.10 L281.27,230.97 L281.69,230.74 L282.03,230.41 L282.32,229.99 L282.55,229.47 L282.74,228.88 L282.92,228.24 L283.10,227.56 L283.30,226.88 L283.53,226.23 L283.82,225.64 L284.15,225.14 L284.55,224.74 L285.01,224.45 L285.53,224.30 L286.09,224.27 L286.70,224.36 L287.32,224.54 L287.96,224.80 L288.60,225.11 L289.22,225.43 L289.82,225.73 L290.39,225.98 L290.93,226.15 L291.43,226.23 L291.91,226.19 L292.35,226.03 L292.78,225.76 L293.20,225.38 L293.62,224.92 L294.05,224.40 L294.49,223.86 L294.95,223.32 L295.42,222.82 L295.92,222.40 L296.44,222.07 L296.97,221.87 L297.50,221.80 L298.03,221.87 L298.56,222.07 L299.08,222.40 L299.58,222.82 L300.05,223.32 L300.51,223.86 L300.95,224.40 L301.38,224.92 L301.80,225.38 L302.22,225.76 L302.65,226.03 L303.09,226.19 L303.57,226.23 L304.07,226.15 L304.61,225.98 L305.18,225.73 L305.78,225.43 L306.40,225.11 L307.04,224.80 L307.68,224.54 L308.30,224.36 L308.91,224.27 L309.47,224.30 L309.99,224.45 L310.45,224.74 L310.85,225.14 L311.18,225.64 L311.47,226.23 L311.70,226.88 L311.90,227.56 L312.08,228.24 L312.26,228.88 L312.45,229.47 L312.68,229.99 L312.97,230.41 L313.31,230.74 L313.73,230.97 L314.22,231.10 L314.78,231.16 L315.40,231.17 L316.07,231.14 L316.77,231.10 L317.48,231.08 L318.17,231.10 L318.81,231.19 L319.40,231.35 L319.91,231.61 L320.31,231.96 L320.62,232.40 L320.82,232.93 L320.93,233.53 L320.94,234.18 L320.89,234.87 L320.80,235.57 L320.69,236.26 L320.59,236.93 L320.53,237.55 L320.53,238.11 L320.61,238.61 L320.80,239.05 L321.08,239.43 L321.48,239.75 L321.96,240.04 L322.53,240.29 L323.16,240.54 L323.81,240.79 L324.46,241.05 L325.08,241.36 L325.64,241.70 L326.11,242.09 L326.47,242.53 L326.70,243.01 L326.80,243.54 L326.77,244.11 L326.62,244.70 L326.37,245.30 L326.04,245.91 L325.67,246.51 L325.29,247.10 L324.93,247.66 L324.62,248.20 L324.39,248.72 L324.26,249.21 L324.25,249.69 L324.36,250.15 L324.59,250.61 L324.92,251.06 L325.33,251.53 L325.80,252.01 L326.30,252.50 Z" fill="none" stroke="#6a4654" stroke-width="1.25" />
<path d="M326.30,252.50 L325.80,252.99 L325.33,253.47 L324.92,253.94 L324.59,254.39 L324.36,254.85 L324.25,255.31 L324.26,255.79 L324.39,256.28 L324.62,256.80 L324.93,257.34 L325.29,257.90 L325.67,258.49 L326.04,259.09 L326.37,259.70 L326.62,260.30 L326.77,260.89 L326.80,261.46 L326.70,261.99 L326.47,262.47 L326.11,262.91 L325.64,263.30 L325.08,263.64 L324.46,263.95 L323.81,264.21 L323.16,264.46 L322.53,264.71 L321.96,264.96 L321.48,265.25 L321.08,265.57 L320.80,265.95 L320.61,266.39 L320.53,266.89 L320.53,267.45 L320.59,268.07 L320.69,268.74 L320.80,269.43 L320.89,270.13 L320.94,270.82 L320.93,271.47 L320.82,272.07 L320.62,272.60 L320.31,273.04 L319.91,273.39 L319.40,273.65 L318.81,273.81 L318.17,273.90 L317.48,273.92 L316.77,273.90 L316.07,273.86 L315.40,273.83 L314.78,273.84 L314.22,273.90 L313.73,274.03 L313.31,274.26 L312.97,274.59 L312.68,275.01 L312.45,275.53 L312.26,276.12 L312.08,276.76 L311.90,277.44 L311.70,278.12 L311.47,278.77 L311.18,279.36 L310.85,279.86 L310.45,280.26 L309.99,280.55 L309.47,280.70 L308.91,280.73 L308.30,280.64 L307.68,280.46 L307.04,280.20 L306.40,279.89 L305.78,279.57 L305.18,279.27 L304.61,279.02 L304.07,278.85 L303.57,278.77 L303.09,278.81 L302.65,278.97 L302.22,279.24 L301.80,279.62 L301.38,280.08 L300.95,280.60 L300.51,281.14 L300.05,281.68 L299.58,282.18 L299.08,282.60 L298.56,282.93 L298.03,283.13 L297.50,283.20 L296.97,283.13 L296.44,282.93 L295.92,282.60 L295.42,282.18 L294.95,281.68 L294.49,281.14 L294.05,280.60 L293.62,280.08 L293.20,279.62 L292.78,279.24 L292.35,278.97 L291.91,278.81 L291.43,278.77 L290.93,278.85 L290.39,279.02 L289.82,279.27 L289.22,279.57 L288.60,279.89 L287.96,280.20 L287.32,280.46 L286.70,280.64 L286.09,280.73 L285.53,280.70 L285.01,280.55 L284.55,280.26 L284.15,279.86 L283.82,279.36 L283.53,278.77 L283.30,278.12 L283.10,277.44 L282.92,276.76 L282.74,276.12 L282.55,275.53 L282.32,275.01 L282.03,274.59 L281.69,274.26 L281.27,274.03 L280.78,273.90 L280.22,273.84 L279.60,273.83 L278.93,273.86 L278.23,273.90 L277.52,273.92 L276.83,273.90 L276.19,273.81 L275.60,273.65 L275.09,273.39 L274.69,273.04 L274.38,272.60 L274.18,272.07 L274.07,271.47 L274.06,270.82 L274.11,270.13 L274.20,269.43 L274.31,268.74 L274.41,268.07 L274.47,267.45 L274.47,266.89 L274.39,266.39 L274.20,265.95 L273.92,265.57 L273.52,265.25 L273.04,264.96 L272.47,264.71 L271.84,264.46 L271.19,264.21 L270.54,263.95 L269.92,263.64 L269.36,263.30 L268.89,262.91 L268.53,262.47 L268.30,261.99 L268.20,261.46 L268.23,260.89 L268.38,260.30 L268.63,259.70 L268.96,259.09 L269.33,258.49 L269.71,257.90 L270.07,257.34 L270.38,256.80 L270.61,256.28 L270.74,255.79 L270.75,255.31 L270.64,254.85 L270.41,254.39 L270.08,253.94 L269.67,253.47 L269.20,252.99 L268.70,252.50 L268.21,251.99 L267.77,251.46 L267.40,250.92 L267.13,250.38 L266.98,249.83 L266.97,249.29 L267.09,248.77 L267.35,248.26 L267.73,247.78 L268.20,247.33 L268.75,246.91 L269.33,246.51 L269.92,246.13 L270.48,245.76 L270.98,245.39 L271.40,245.02 L271.71,244.62 L271.92,244.19 L272.00,243.72 L271.98,243.21 L271.87,242.66 L271.68,242.07 L271.44,241.44 L271.19,240.79 L270.95,240.12 L270.76,239.46 L270.64,238.82 L270.62,238.21 L270.71,237.65 L270.91,237.15 L271.24,236.72 L271.68,236.37 L272.22,236.08 L272.84,235.86 L273.51,235.70 L274.20,235.57 L274.89,235.46 L275.55,235.35 L276.16,235.22 L276.70,235.05 L277.15,234.81 L277.51,234.50 L277.78,234.11 L277.97,233.64 L278.09,233.09 L278.15,232.47 L278.19,231.80 L278.23,231.10 L278.28,230.39 L278.38,229.71 L278.53,229.07 L278.76,228.51 L279.06,228.03 L279.45,227.66 L279.93,227.41 L280.48,227.26 L281.08,227.22 L281.73,227.27 L282.41,227.39 L283.10,227.56 L283.78,227.74 L284.43,227.91 L285.04,228.04 L285.60,228.09 L286.10,228.06 L286.56,227.93 L286.96,227.68 L287.33,227.32 L287.66,226.87 L287.97,226.33 L288.28,225.73 L288.60,225.11 L288.94,224.49 L289.30,223.90 L289.70,223.38 L290.13,222.96 L290.61,222.65 L291.12,222.47 L291.65,222.43 L292.21,222.52 L292.78,222.73 L293.36,223.04 L293.93,223.43 L294.49,223.86 L295.03,224.30 L295.56,224.72 L296.06,225.08 L296.55,225.36 L297.03,225.54 L297.50,225.60 L297.97,225.54 L298.45,225.36 L298.94,225.08 L299.44,224.72 L299.97,224.30 L300.51,223.86 L301.07,223.43 L301.64,223.04 L302.22,222.73 L302.79,222.52 L303.35,222.43 L303.88,222.47 L304.39,222.65 L304.87,222.96 L305.30,223.38 L305.70,223.90 L306.06,224.49 L306.40,225.11 L306.72,225.73 L307.03,226.33 L307.34,226.87 L307.67,227.32 L308.04,227.68 L308.44,227.93 L308.90,228.06 L309.40,228.09 L309.96,228.04 L310.57,227.91 L311.22,227.74 L311.90,227.56 L312.59,227.39 L313.27,227.27 L313.92,227.22 L314.52,227.26 L315.07,227.41 L315.55,227.66 L315.94,228.03 L316.24,228.51 L316.47,229.07 L316.62,229.71 L316.72,230.39 L316.77,231.10 L316.81,231.80 L316.85,232.47 L316.91,233.09 L317.03,233.64 L317.22,234.11 L317.49,234.50 L317.85,234.81 L318.30,235.05 L318.84,235.22 L319.45,235.35 L320.11,235.46 L320.80,235.57 L321.49,235.70 L322.16,235.86 L322.78,236.08 L323.32,236.37 L323.76,236.72 L324.09,237.15 L324.29,237.65 L324.38,238.21 L324.36,238.82 L324.24,239.46 L324.05,240.12 L323.81,240.79 L323.56,241.44 L323.32,242.07 L323.13,242.66 L323.02,243.21 L323.00,243.72 L323.08,244.19 L323.29,244.62 L323.60,245.02 L324.02,245.39 L324.52,245.76 L325.08,246.13 L325.67,246.51 L326.25,246.91 L326.80,247.33 L327.27,247.78 L327.65,248.26 L327.91,248.77 L328.03,249.29 L328.02,249.83 L327.87,250.38 L327.60,250.92 L327.23,251.46 L326.79,251.99 L326.30,252.50 Z" fill="none" stroke="#3e4862" stroke-width="1.25" />
<circle cx="350.5" cy="247.0" r="6.6" fill="#000" stroke="none" stroke-width="0"/>
<circle cx="372.5" cy="247.0" r="6.6" fill="#000" stroke="none" stroke-width="0"/>
<circle cx="394.5" cy="247.0" r="6.6" fill="#000" stroke="none" stroke-width="0"/>
<rect x="422.9" y="303.9" width="24.2" height="22.1" fill="#c9a6c1" stroke="#000" stroke-width="2.6" rx="0" />
<line x1="435.0" y1="300.7" x2="435.0" y2="303.9" stroke="#000" stroke-width="2.4" />
<line x1="428.5" y1="300.7" x2="441.5" y2="300.7" stroke="#000" stroke-width="2.8" />
<rect x="450.3" y="230.4" width="24.1" height="95.6" fill="#5479ab" stroke="#000" stroke-width="2.6" rx="0" />
<line x1="462.4" y1="227.3" x2="462.4" y2="230.4" stroke="#000" stroke-width="2.4" />
<line x1="455.9" y1="227.3" x2="468.9" y2="227.3" stroke="#000" stroke-width="2.8" />
<rect x="490.8" y="293.3" width="24.2" height="32.7" fill="#c9a6c1" stroke="#000" stroke-width="2.6" rx="0" />
<line x1="502.9" y1="290.6" x2="502.9" y2="293.3" stroke="#000" stroke-width="2.4" />
<line x1="496.4" y1="290.6" x2="509.4" y2="290.6" stroke="#000" stroke-width="2.8" />
<rect x="518.1" y="236.9" width="24.1" height="89.1" fill="#5479ab" stroke="#000" stroke-width="2.6" rx="0" />
<line x1="530.2" y1="232.4" x2="530.2" y2="236.9" stroke="#000" stroke-width="2.4" />
<line x1="523.7" y1="232.4" x2="536.7" y2="232.4" stroke="#000" stroke-width="2.8" />
<path d="M416.5,176.2 H549 V326.5 H416.5 Z" fill="none" stroke="#000" stroke-width="2.8" />
<rect x="421.7" y="184.3" width="29.6" height="5.8" fill="#c9a6c1" stroke="#000" stroke-width="2.6" rx="0" />
<rect x="421.7" y="204.8" width="29.6" height="5.8" fill="#5479ab" stroke="#000" stroke-width="2.6" rx="0" />
<text x="470.9" y="194.0" font-size="18.8">Inducer-</text>
<text x="470.9" y="214.4" font-size="18.8">Inducer+</text>
<rect x="149.5" y="356.0" width="270.0" height="34.0" fill="#d4e9f3" stroke="none" stroke-width="0" rx="17.0" />
<text x="174.0" y="381.5" font-size="26.8" fill="#111">1.Characterization</text>
<text x="691.5" y="26.4" font-size="27.5" fill="#2592cc">P</text>
<text x="709.8" y="35.1" font-size="15.6" fill="#2592cc" font-style="italic">repressor</text>
<line x1="625.0" y1="62.0" x2="850.0" y2="62.0" stroke="#a8a8a8" stroke-width="4.5" />
<line x1="636.0" y1="45.0" x2="651.0" y2="45.0" stroke="#999" stroke-width="2.2" />
<line x1="644.0" y1="45.0" x2="644.0" y2="61.0" stroke="#999" stroke-width="2.8" />
<path d="M646,62 L674,39.5 H786 V82 H674 Z" fill="#1a9ad8" stroke="#0b0b0b" stroke-width="1.5" />
<text x="664.2" y="69.0" font-size="27.0" fill="#e6f9ff">repressor</text>
<path d="M789.5,59.8 A14.9,14.9 0 0 1 819.3,59.8 Z" fill="#1a9ad8" stroke="none" stroke-width="0" />
<path d="M832,61 V20.3 H800" fill="none" stroke="#1a9ad8" stroke-width="3.2" />
<path d="M778.0,20.3 L805.0,9.0 L799.0,20.3 L805.0,31.6 Z" fill="#1a9ad8" stroke="none" stroke-width="0" />
<path d="M709.5,123 V93.8 H680.9" fill="none" stroke="#5b86c5" stroke-width="3" />
<path d="M660.9,93.8 L687.9,82.5 L681.9,93.8 L687.9,105.1 Z" fill="#5b86c5" stroke="none" stroke-width="0" />
<path d="M679.0,123 V93.8 H652.5" fill="none" stroke="#a9d0ea" stroke-width="3" />
<path d="M632.5,93.8 L659.5,82.5 L653.5,93.8 L659.5,105.1 Z" fill="#a9d0ea" stroke="none" stroke-width="0" />
<path d="M654.3,123 V93.8 H623.7" fill="none" stroke="#e88b92" stroke-width="3" />
<path d="M603.7,93.8 L630.7,82.5 L624.7,93.8 L630.7,105.1 Z" fill="#e88b92" stroke="none" stroke-width="0" />
<path d="M821.0,97 A14.5,14.5 0 0 1 850.0,97 Z" fill="#5b86c5" stroke="none" stroke-width="0" />
<path d="M802,104.5 A14,14 0 0 1 830,104.5 Z" fill="#a9d0ea" stroke="none" stroke-width="0" />
<path d="M784.5,112.5 A13.5,13.5 0 0 1 811.5,112.5 Z" fill="#cde3b6" stroke="none" stroke-width="0" />
<path d="M765,119.5 A15,15 0 0 1 795,119.5 Z" fill="#e88b92" stroke="none" stroke-width="0" />
<text x="602.0" y="138.8" font-size="21.5">Promoter and RBS Screening</text>
<rect x="672.5" y="148.2" width="499.7" height="34.8" fill="#d4e9f3" stroke="none" stroke-width="0" rx="17.400000000000006" />
<text x="718.6" y="174.2" font-size="26.87" fill="#111">2.Reconstruction and Modification</text>
<line x1="889.0" y1="63.6" x2="1245.0" y2="63.6" stroke="#000" stroke-width="2.6" />
<path d="M1262.5,63.6 L1236.5,53.3 L1243,63.6 L1236.5,74.2 Z" fill="#000" stroke="none" stroke-width="0" />
<rect x="936.6" y="55.0" width="97.0" height="17.2" fill="#000" stroke="none" stroke-width="0" rx="0" />
<rect x="1075.8" y="55.0" width="96.4" height="17.2" fill="#000" stroke="none" stroke-width="0" rx="0" />
<rect x="1195.2" y="55.0" width="6.7" height="17.2" fill="#e3141e" stroke="none" stroke-width="0" rx="0" />
<text x="962.0" y="50.5" font-size="27.3">-35</text>
<text x="1104.6" y="50.5" font-size="27.0">-10</text>
<text x="1183.3" y="50.5" font-size="25.5" fill="#e3141e">+1</text>
<line x1="1014.6" y1="115.7" x2="925.6" y2="85.0" stroke="#000" stroke-width="2.6" />
<path d="M916.1,81.7 L930.5,79.8 L924.6,84.6 L926.3,92.1 Z" fill="#000" stroke="none" stroke-width="0" />
<line x1="1056.0" y1="117.8" x2="1056.0" y2="90.2" stroke="#000" stroke-width="2.6" />
<path d="M1056.0,80.2 L1062.5,93.2 L1056.0,89.2 L1049.5,93.2 Z" fill="#000" stroke="none" stroke-width="0" />
<line x1="1103.4" y1="115.7" x2="1192.4" y2="85.2" stroke="#000" stroke-width="2.6" />
<path d="M1201.9,82.0 L1191.7,92.4 L1193.4,84.9 L1187.5,80.1 Z" fill="#000" stroke="none" stroke-width="0" />
<text x="1015.2" y="140.1" font-size="21.25">Operator</text>
<line x1="652.0" y1="320.0" x2="652.0" y2="205.0" stroke="#000" stroke-width="3" />
<path d="M652.0,187.0 L641.7,211.0 L652.0,211.0 L662.3,211.0 Z" fill="#000" stroke="none" stroke-width="0" />
<line x1="652.0" y1="320.0" x2="815.0" y2="320.0" stroke="#000" stroke-width="3" />
<path d="M833.8,320.0 L809.8,309.5 L809.8,320.0 L809.8,330.5 Z" fill="#000" stroke="none" stroke-width="0" />
<path d="M652,305 C690,306 715,295 738,256 C760,215 785,196 819,195.5" fill="none" stroke="#c5202e" stroke-width="3" />
<text transform="translate(638.3,330.5) rotate(-90)" font-size="21.5">Expression level</text>
<text x="643.5" y="344.5" font-size="21.5">Inducer concentration</text>
<rect x="622.5" y="356.3" width="252.5" height="33.7" fill="#d4e9f3" stroke="none" stroke-width="0" rx="16.849999999999994" />
<text x="663.5" y="382.0" font-size="26.8" fill="#111">3.Optimization</text>
<path d="M908,250 Q898,222 915,205 Q930,188 960,190 Q985,181 1010,188 Q1035,190 1042,215 Q1050,245 1044,290 Q1048,330 1030,352 Q1010,372 975,368 Q940,372 922,352 Q905,330 910,300 Q902,275 908,250 Z" fill="none" stroke="#d4d4d4" stroke-width="0.9" stroke-dasharray="2.5,1.5"/>
<path d="M915,260 Q905,235 925,215 M1035,230 Q1045,260 1038,300 M925,330 Q935,355 960,362" fill="none" stroke="#d4d4d4" stroke-width="0.9" stroke-dasharray="2.5,1.5"/>
<defs><clipPath id="barrel"><path d="M937,229 Q946,219 972,219 Q1006,219 1018,231 L1016,316 Q1008,330 975,331 Q946,331 936,320 Z"/></clipPath></defs>
<g clip-path="url(#barrel)">
<line x1="835.0" y1="212.0" x2="927.0" y2="340.0" stroke="#a67f90" stroke-width="5" />
<line x1="854.0" y1="212.0" x2="946.0" y2="340.0" stroke="#a67f90" stroke-width="5" />
<line x1="873.0" y1="212.0" x2="965.0" y2="340.0" stroke="#a67f90" stroke-width="5" />
<line x1="892.0" y1="212.0" x2="984.0" y2="340.0" stroke="#a67f90" stroke-width="5" />
<line x1="911.0" y1="212.0" x2="1003.0" y2="340.0" stroke="#a67f90" stroke-width="5" />
<line x1="930.0" y1="212.0" x2="1022.0" y2="340.0" stroke="#a67f90" stroke-width="5" />
<line x1="949.0" y1="212.0" x2="1041.0" y2="340.0" stroke="#a67f90" stroke-width="5" />
<line x1="968.0" y1="212.0" x2="1060.0" y2="340.0" stroke="#a67f90" stroke-width="5" />
<line x1="987.0" y1="212.0" x2="1079.0" y2="340.0" stroke="#a67f90" stroke-width="5" />
<line x1="1006.0" y1="212.0" x2="1098.0" y2="340.0" stroke="#a67f90" stroke-width="5" />
<line x1="1025.0" y1="212.0" x2="1117.0" y2="340.0" stroke="#a67f90" stroke-width="5" />
<line x1="1044.0" y1="212.0" x2="1136.0" y2="340.0" stroke="#a67f90" stroke-width="5" />
<path d="M820.0,342 Q860.0,270.0 924.0,210" fill="none" stroke="#d6abbd" stroke-width="7.5" />
<path d="M818.5,340 Q858.0,268.0 922.0,208" fill="none" stroke="#e8cdd8" stroke-width="1.4" />
<path d="M839.0,342 Q879.0,270.0 943.0,210" fill="none" stroke="#d6abbd" stroke-width="7.5" />
<path d="M837.5,340 Q877.0,268.0 941.0,208" fill="none" stroke="#e8cdd8" stroke-width="1.4" />
<path d="M858.0,342 Q898.0,270.0 962.0,210" fill="none" stroke="#d6abbd" stroke-width="7.5" />
<path d="M856.5,340 Q896.0,268.0 960.0,208" fill="none" stroke="#e8cdd8" stroke-width="1.4" />
<path d="M877.0,342 Q917.0,270.0 981.0,210" fill="none" stroke="#d6abbd" stroke-width="7.5" />
<path d="M875.5,340 Q915.0,268.0 979.0,208" fill="none" stroke="#e8cdd8" stroke-width="1.4" />
<path d="M896.0,342 Q936.0,270.0 1000.0,210" fill="none" stroke="#d6abbd" stroke-width="7.5" />
<path d="M894.5,340 Q934.0,268.0 998.0,208" fill="none" stroke="#e8cdd8" stroke-width="1.4" />
<path d="M915.0,342 Q955.0,270.0 1019.0,210" fill="none" stroke="#d6abbd" stroke-width="7.5" />
<path d="M913.5,340 Q953.0,268.0 1017.0,208" fill="none" stroke="#e8cdd8" stroke-width="1.4" />
<path d="M934.0,342 Q974.0,270.0 1038.0,210" fill="none" stroke="#d6abbd" stroke-width="7.5" />
<path d="M932.5,340 Q972.0,268.0 1036.0,208" fill="none" stroke="#e8cdd8" stroke-width="1.4" />
<path d="M953.0,342 Q993.0,270.0 1057.0,210" fill="none" stroke="#d6abbd" stroke-width="7.5" />
<path d="M951.5,340 Q991.0,268.0 1055.0,208" fill="none" stroke="#e8cdd8" stroke-width="1.4" />
<path d="M972.0,342 Q1012.0,270.0 1076.0,210" fill="none" stroke="#d6abbd" stroke-width="7.5" />
<path d="M970.5,340 Q1010.0,268.0 1074.0,208" fill="none" stroke="#e8cdd8" stroke-width="1.4" />
<path d="M991.0,342 Q1031.0,270.0 1095.0,210" fill="none" stroke="#d6abbd" stroke-width="7.5" />
<path d="M989.5,340 Q1029.0,268.0 1093.0,208" fill="none" stroke="#e8cdd8" stroke-width="1.4" />
<path d="M1010.0,342 Q1050.0,270.0 1114.0,210" fill="none" stroke="#d6abbd" stroke-width="7.5" />
<path d="M1008.5,340 Q1048.0,268.0 1112.0,208" fill="none" stroke="#e8cdd8" stroke-width="1.4" />
<path d="M1029.0,342 Q1069.0,270.0 1133.0,210" fill="none" stroke="#d6abbd" stroke-width="7.5" />
<path d="M1027.5,340 Q1067.0,268.0 1131.0,208" fill="none" stroke="#e8cdd8" stroke-width="1.4" />
</g>
<path d="M939,229 Q933,280 940,326" fill="none" stroke="#c99fb1" stroke-width="4.5" />
<path d="M1016,231 Q1022,280 1013,322" fill="none" stroke="#c99fb1" stroke-width="4" />
<path d="M936,228 Q928,202 940,195 Q950,188 948,206" fill="none" stroke="#c3909f" stroke-width="1.6" />
<path d="M958,214 Q952,196 963,197 Q978,198 970,214" fill="none" stroke="#c3909f" stroke-width="1.6" />
<path d="M982,213 Q975,192 990,187 Q1005,183 1000,200 Q996,212 1008,214" fill="none" stroke="#c3909f" stroke-width="1.6" />
<path d="M1016,226 Q1030,212 1022,198 Q1016,186 1032,184" fill="none" stroke="#c3909f" stroke-width="1.6" />
<path d="M936,224 Q918,212 909,215 Q903,222 915,226 Q925,227 936,232" fill="none" stroke="#c3909f" stroke-width="1.6" />
<path d="M938,336 Q928,350 943,356 Q958,352 952,338" fill="none" stroke="#c3909f" stroke-width="1.6" />
<path d="M980,337 Q988,354 972,358 Q962,350 975,340" fill="none" stroke="#c3909f" stroke-width="1.6" />
<path d="M1019,316 Q1034,322 1028,346 Q1020,356 1008,348 Q1000,340 1012,334" fill="none" stroke="#c3909f" stroke-width="1.6" />
<path d="M960,338 Q966,352 955,360" fill="none" stroke="#c3909f" stroke-width="1.6" />
<path d="M946,200 Q944,215 952,222" fill="none" stroke="#c3909f" stroke-width="1.6" />
<path d="M1000,330 Q1010,342 1004,352" fill="none" stroke="#c3909f" stroke-width="1.6" />
<path d="M910,216 Q918,210 934,220" fill="none" stroke="#c898a8" stroke-width="4" />
<path d="M1055.8,233.4 L1064.1,228.4 L1072.4,233.4 L1080.6,228.4 L1088.9,233.4 L1097.2,228.4 L1105.5,233.4 L1113.8,228.4 L1122.0,233.4 L1131.2,228.4 L1139.4,233.4 L1147.7,228.4 L1156.0,233.4 L1165.1,228.4 L1173.4,233.4 L1181.7,228.4 L1190.8,233.4 L1199.1,228.4 L1207.3,233.4 L1215.6,228.4 L1224.7,233.4 L1233.0,228.4 L1241.3,233.4 L1250.4,228.4" fill="none" stroke="#b9383f" stroke-width="1.4" />
<line x1="1064.1" y1="228.4" x2="1064.1" y2="218.2" stroke="#b9383f" stroke-width="1.4" />
<line x1="1097.2" y1="228.4" x2="1097.2" y2="218.2" stroke="#b9383f" stroke-width="1.4" />
<line x1="1131.2" y1="228.4" x2="1131.2" y2="218.2" stroke="#b9383f" stroke-width="1.4" />
<line x1="1173.4" y1="233.4" x2="1173.4" y2="243.8" stroke="#b9383f" stroke-width="1.4" />
<line x1="1207.3" y1="233.4" x2="1207.3" y2="243.8" stroke="#b9383f" stroke-width="1.4" />
<line x1="1241.3" y1="233.4" x2="1241.3" y2="243.8" stroke="#b9383f" stroke-width="1.4" />
<line x1="1065.7" y1="231.8" x2="1070.7" y2="234.8" stroke="#b9383f" stroke-width="1.2" />
<line x1="1082.3" y1="231.8" x2="1087.3" y2="234.8" stroke="#b9383f" stroke-width="1.2" />
<line x1="1098.9" y1="231.8" x2="1103.8" y2="234.8" stroke="#b9383f" stroke-width="1.2" />
<line x1="1115.4" y1="231.8" x2="1120.4" y2="234.8" stroke="#b9383f" stroke-width="1.2" />
<line x1="1132.8" y1="231.8" x2="1137.8" y2="234.8" stroke="#b9383f" stroke-width="1.2" />
<line x1="1149.4" y1="231.8" x2="1154.3" y2="234.8" stroke="#b9383f" stroke-width="1.2" />
<line x1="1166.8" y1="231.8" x2="1171.7" y2="234.8" stroke="#b9383f" stroke-width="1.2" />
<line x1="1183.5" y1="231.8" x2="1189.0" y2="234.8" stroke="#b9383f" stroke-width="1.2" />
<line x1="1200.7" y1="231.8" x2="1205.7" y2="234.8" stroke="#b9383f" stroke-width="1.2" />
<line x1="1217.4" y1="231.8" x2="1222.9" y2="234.8" stroke="#b9383f" stroke-width="1.2" />
<line x1="1234.7" y1="231.8" x2="1239.6" y2="234.8" stroke="#b9383f" stroke-width="1.2" />
<path d="M1055.8,233.4 L1055.8,244.7 L1062.9,248.8 L1062.9,258.7" fill="none" stroke="#b9383f" stroke-width="1.4" />
<path d="M1055.8,264.5 L1062.9,258.7 L1071.2,264.5" fill="none" stroke="#b9383f" stroke-width="1.4" />
<line x1="1061.3" y1="250.5" x2="1061.3" y2="257.1" stroke="#b9383f" stroke-width="1.2" />
<path d="M1250.4,228.4 L1250.4,218.2 L1242.1,213.2 L1242.1,204.1" fill="none" stroke="#b9383f" stroke-width="1.4" />
<path d="M1233.8,197.5 L1242.1,204.1 L1249.6,197.5" fill="none" stroke="#b9383f" stroke-width="1.4" />
<line x1="1244.1" y1="205.7" x2="1244.1" y2="212.4" stroke="#b9383f" stroke-width="1.2" />
<text x="1155.9" y="268.4" font-size="21.4" fill="#b9383f">Lycopene</text>
<path d="M1063.2,304.8 L1071.5,309.8 L1071.5,320.6 L1063.2,325.5 L1055.0,320.6 L1055.0,309.8 Z" fill="none" stroke="#e0a243" stroke-width="1.4" />
<line x1="1063.2" y1="304.8" x2="1063.2" y2="294.1" stroke="#e0a243" stroke-width="1.4" />
<line x1="1071.5" y1="320.6" x2="1080.6" y2="320.6" stroke="#e0a243" stroke-width="1.4" />
<line x1="1071.5" y1="320.6" x2="1074.0" y2="330.5" stroke="#e0a243" stroke-width="1.4" />
<line x1="1065.2" y1="308.5" x2="1069.9" y2="311.1" stroke="#e0a243" stroke-width="1.2" />
<path d="M1071.5,309.8 L1080.6,304.8 L1088.9,309.8 L1097.2,304.8 L1105.5,309.8 L1113.8,304.8 L1122.0,309.8 L1131.2,304.8 L1139.4,309.8 L1147.7,304.8 L1156.0,309.8 L1164.3,304.8 L1173.4,309.8 L1181.7,304.8 L1189.9,309.8 L1199.1,304.8 L1207.3,309.8 L1215.6,304.8 L1223.9,309.8 L1232.2,304.8" fill="none" stroke="#e0a243" stroke-width="1.4" />
<line x1="1097.2" y1="304.8" x2="1097.2" y2="294.1" stroke="#e0a243" stroke-width="1.4" />
<line x1="1131.2" y1="304.8" x2="1131.2" y2="294.1" stroke="#e0a243" stroke-width="1.4" />
<line x1="1173.4" y1="309.8" x2="1173.4" y2="320.6" stroke="#e0a243" stroke-width="1.4" />
<line x1="1207.3" y1="309.8" x2="1207.3" y2="320.6" stroke="#e0a243" stroke-width="1.4" />
<line x1="1082.3" y1="308.2" x2="1087.3" y2="311.2" stroke="#e0a243" stroke-width="1.2" />
<line x1="1098.9" y1="308.2" x2="1103.8" y2="311.2" stroke="#e0a243" stroke-width="1.2" />
<line x1="1115.4" y1="308.2" x2="1120.4" y2="311.2" stroke="#e0a243" stroke-width="1.2" />
<line x1="1132.8" y1="308.2" x2="1137.8" y2="311.2" stroke="#e0a243" stroke-width="1.2" />
<line x1="1149.4" y1="308.2" x2="1154.3" y2="311.2" stroke="#e0a243" stroke-width="1.2" />
<line x1="1166.1" y1="308.2" x2="1171.6" y2="311.2" stroke="#e0a243" stroke-width="1.2" />
<line x1="1183.3" y1="308.2" x2="1188.3" y2="311.2" stroke="#e0a243" stroke-width="1.2" />
<line x1="1200.7" y1="308.2" x2="1205.7" y2="311.2" stroke="#e0a243" stroke-width="1.2" />
<line x1="1217.3" y1="308.2" x2="1222.2" y2="311.2" stroke="#e0a243" stroke-width="1.2" />
<path d="M1232.2,304.8 L1232.2,294.1 L1240.5,289.1 L1248.7,294.1 L1248.7,304.8 L1240.5,309.8 Z" fill="none" stroke="#e0a243" stroke-width="1.4" />
<line x1="1240.5" y1="309.8" x2="1241.3" y2="320.6" stroke="#e0a243" stroke-width="1.4" />
<line x1="1232.2" y1="294.1" x2="1223.6" y2="294.9" stroke="#e0a243" stroke-width="1.4" />
<line x1="1232.2" y1="294.1" x2="1228.0" y2="285.0" stroke="#e0a243" stroke-width="1.4" />
<line x1="1235.2" y1="304.8" x2="1239.6" y2="307.3" stroke="#e0a243" stroke-width="1.2" />
<text x="1146.0" y="343.8" font-size="21.5" fill="#e9b552">β-carotene</text>
<rect x="978.0" y="356.3" width="253.4" height="34.3" fill="#d4e9f3" stroke="none" stroke-width="0" rx="17.150000000000006" />
<text x="1028.0" y="381.7" font-size="26.95" fill="#111">4.Application</text>
<path d="M730.8,408.7 H1259.2 V622.6 H730.8 Z" fill="none" stroke="#111" stroke-width="2.6" stroke-dasharray="10,10"/>
<line x1="738.0" y1="446.6" x2="906.6" y2="446.6" stroke="#8d8d8d" stroke-width="2.8" />
<line x1="738.0" y1="433.2" x2="755.0" y2="433.2" stroke="#8d8d8d" stroke-width="2.6" />
<line x1="746.5" y1="433.2" x2="746.5" y2="446.6" stroke="#8d8d8d" stroke-width="2.6" />
<path d="M754.3,446.6 L768.7,436.4 H823.3 V457.8 H768.7 Z" fill="#5a88c8" stroke="#000" stroke-width="0.6" stroke-opacity="0.35"/>
<text x="794.8" y="455.2" font-size="21.8" fill="#fbfdff" text-anchor="middle">lacI</text>
<path d="M824.0,446.6 A6.4,6.4 0 0 1 836.8,446.6 Z" fill="#5a88c8" stroke="none" stroke-width="0" />
<path d="M888.0,446.6 A5.9,5.9 0 0 1 899.8,446.6 Z" fill="#5a88c8" stroke="none" stroke-width="0" />
<line x1="841.1" y1="433.2" x2="857.5" y2="433.2" stroke="#8d8d8d" stroke-width="2.6" />
<line x1="849.6" y1="433.2" x2="849.6" y2="446.6" stroke="#8d8d8d" stroke-width="2.6" />
<path d="M839.7,446.6 V425.2 H826.0" fill="none" stroke="#5a88c8" stroke-width="2.3" />
<path d="M816.7,425.2 L828.7,420.4 L825.7,425.2 L828.7,430.0 Z" fill="#5a88c8" stroke="none" stroke-width="0" />
<path d="M861.4,446.6 V423.0 H880.0" fill="none" stroke="#5a88c8" stroke-width="2.3" />
<path d="M889.0,423.0 L877.0,418.2 L880.0,423.0 L877.0,427.8 Z" fill="#5a88c8" stroke="none" stroke-width="0" />
<rect x="870.7" y="436.7" width="5.1" height="18.2" fill="#5a88c8" stroke="none" stroke-width="0" rx="0" />
<circle cx="883.3" cy="434.2" r="2.3" fill="none" stroke="#a0a0a0" stroke-width="1.3"/>
<line x1="883.3" y1="437.8" x2="883.3" y2="445.6" stroke="#b0b0b0" stroke-width="1.2" stroke-dasharray="1.5,1.5"/>
<line x1="913.8" y1="446.6" x2="1082.4" y2="446.6" stroke="#8d8d8d" stroke-width="2.8" />
<line x1="913.8" y1="433.2" x2="930.8" y2="433.2" stroke="#8d8d8d" stroke-width="2.6" />
<line x1="922.3" y1="433.2" x2="922.3" y2="446.6" stroke="#8d8d8d" stroke-width="2.6" />
<path d="M930.1,446.6 L944.5,436.4 H999.1 V457.8 H944.5 Z" fill="#cf0d58" stroke="#000" stroke-width="0.6" stroke-opacity="0.35"/>
<text x="971.0" y="455.2" font-size="21.8" fill="#fbfdff" text-anchor="middle">phlF</text>
<path d="M999.8,446.6 A6.4,6.4 0 0 1 1012.6,446.6 Z" fill="#cf0d58" stroke="none" stroke-width="0" />
<path d="M1063.8,446.6 A5.9,5.9 0 0 1 1075.6,446.6 Z" fill="#cf0d58" stroke="none" stroke-width="0" />
<line x1="1016.9" y1="433.2" x2="1033.3" y2="433.2" stroke="#8d8d8d" stroke-width="2.6" />
<line x1="1025.4" y1="433.2" x2="1025.4" y2="446.6" stroke="#8d8d8d" stroke-width="2.6" />
<path d="M1015.5,446.6 V425.2 H1001.8" fill="none" stroke="#cf0d58" stroke-width="2.3" />
<path d="M992.5,425.2 L1004.5,420.4 L1001.5,425.2 L1004.5,430.0 Z" fill="#cf0d58" stroke="none" stroke-width="0" />
<path d="M1037.2,446.6 V423.0 H1055.8" fill="none" stroke="#cf0d58" stroke-width="2.3" />
<path d="M1064.8,423.0 L1052.8,418.2 L1055.8,423.0 L1052.8,427.8 Z" fill="#cf0d58" stroke="none" stroke-width="0" />
<rect x="1046.5" y="436.7" width="5.1" height="18.2" fill="#cf0d58" stroke="none" stroke-width="0" rx="0" />
<circle cx="1059.1" cy="434.2" r="2.3" fill="none" stroke="#a0a0a0" stroke-width="1.3"/>
<line x1="1059.1" y1="437.8" x2="1059.1" y2="445.6" stroke="#b0b0b0" stroke-width="1.2" stroke-dasharray="1.5,1.5"/>
<line x1="1088.0" y1="446.6" x2="1256.6" y2="446.6" stroke="#8d8d8d" stroke-width="2.8" />
<line x1="1088.0" y1="433.2" x2="1105.0" y2="433.2" stroke="#8d8d8d" stroke-width="2.6" />
<line x1="1096.5" y1="433.2" x2="1096.5" y2="446.6" stroke="#8d8d8d" stroke-width="2.6" />
<path d="M1104.3,446.6 L1118.7,436.4 H1173.3 V457.8 H1118.7 Z" fill="#7e2c90" stroke="#000" stroke-width="0.6" stroke-opacity="0.35"/>
<text x="1146.5" y="455.2" font-size="21.8" fill="#fbfdff" text-anchor="middle">betL</text>
<path d="M1174.0,446.6 A6.4,6.4 0 0 1 1186.8,446.6 Z" fill="#7e2c90" stroke="none" stroke-width="0" />
<path d="M1238.0,446.6 A5.9,5.9 0 0 1 1249.8,446.6 Z" fill="#7e2c90" stroke="none" stroke-width="0" />
<line x1="1191.1" y1="433.2" x2="1207.5" y2="433.2" stroke="#8d8d8d" stroke-width="2.6" />
<line x1="1199.6" y1="433.2" x2="1199.6" y2="446.6" stroke="#8d8d8d" stroke-width="2.6" />
<path d="M1189.7,446.6 V425.2 H1176.0" fill="none" stroke="#7e2c90" stroke-width="2.3" />
<path d="M1166.7,425.2 L1178.7,420.4 L1175.7,425.2 L1178.7,430.0 Z" fill="#7e2c90" stroke="none" stroke-width="0" />
<path d="M1211.4,446.6 V423.0 H1230.0" fill="none" stroke="#7e2c90" stroke-width="2.3" />
<path d="M1239.0,423.0 L1227.0,418.2 L1230.0,423.0 L1227.0,427.8 Z" fill="#7e2c90" stroke="none" stroke-width="0" />
<rect x="1220.7" y="436.7" width="5.1" height="18.2" fill="#7e2c90" stroke="none" stroke-width="0" rx="0" />
<circle cx="1233.3" cy="434.2" r="2.3" fill="none" stroke="#a0a0a0" stroke-width="1.3"/>
<line x1="1233.3" y1="437.8" x2="1233.3" y2="445.6" stroke="#b0b0b0" stroke-width="1.2" stroke-dasharray="1.5,1.5"/>
<line x1="738.0" y1="497.1" x2="906.6" y2="497.1" stroke="#8d8d8d" stroke-width="2.8" />
<line x1="738.0" y1="483.7" x2="755.0" y2="483.7" stroke="#8d8d8d" stroke-width="2.6" />
<line x1="746.5" y1="483.7" x2="746.5" y2="497.1" stroke="#8d8d8d" stroke-width="2.6" />
<path d="M754.3,497.1 L768.7,486.9 H823.3 V508.3 H768.7 Z" fill="#ecb6a2" stroke="#000" stroke-width="0.6" stroke-opacity="0.35"/>
<text x="794.8" y="505.7" font-size="21.8" fill="#fbfdff" text-anchor="middle">xylR</text>
<path d="M824.0,497.1 A6.4,6.4 0 0 1 836.8,497.1 Z" fill="#ecb6a2" stroke="none" stroke-width="0" />
<path d="M888.0,497.1 A5.9,5.9 0 0 1 899.8,497.1 Z" fill="#ecb6a2" stroke="none" stroke-width="0" />
<line x1="841.1" y1="483.7" x2="857.5" y2="483.7" stroke="#8d8d8d" stroke-width="2.6" />
<line x1="849.6" y1="483.7" x2="849.6" y2="497.1" stroke="#8d8d8d" stroke-width="2.6" />
<path d="M839.7,497.1 V475.7 H826.0" fill="none" stroke="#ecb6a2" stroke-width="2.3" />
<path d="M816.7,475.7 L828.7,470.9 L825.7,475.7 L828.7,480.5 Z" fill="#ecb6a2" stroke="none" stroke-width="0" />
<path d="M861.4,497.1 V473.5 H880.0" fill="none" stroke="#ecb6a2" stroke-width="2.3" />
<path d="M889.0,473.5 L877.0,468.7 L880.0,473.5 L877.0,478.3 Z" fill="#ecb6a2" stroke="none" stroke-width="0" />
<rect x="870.7" y="487.2" width="5.1" height="18.2" fill="#ecb6a2" stroke="none" stroke-width="0" rx="0" />
<circle cx="883.3" cy="484.7" r="2.3" fill="none" stroke="#a0a0a0" stroke-width="1.3"/>
<line x1="883.3" y1="488.3" x2="883.3" y2="496.1" stroke="#b0b0b0" stroke-width="1.2" stroke-dasharray="1.5,1.5"/>
<line x1="913.8" y1="497.1" x2="1082.4" y2="497.1" stroke="#8d8d8d" stroke-width="2.8" />
<line x1="913.8" y1="483.7" x2="930.8" y2="483.7" stroke="#8d8d8d" stroke-width="2.6" />
<line x1="922.3" y1="483.7" x2="922.3" y2="497.1" stroke="#8d8d8d" stroke-width="2.6" />
<path d="M930.1,497.1 L944.5,486.9 H999.1 V508.3 H944.5 Z" fill="#a38b79" stroke="#000" stroke-width="0.6" stroke-opacity="0.35"/>
<text x="971.0" y="505.7" font-size="21.8" fill="#fbfdff" text-anchor="middle">cymR</text>
<path d="M999.8,497.1 A6.4,6.4 0 0 1 1012.6,497.1 Z" fill="#a38b79" stroke="none" stroke-width="0" />
<path d="M1063.8,497.1 A5.9,5.9 0 0 1 1075.6,497.1 Z" fill="#a38b79" stroke="none" stroke-width="0" />
<line x1="1016.9" y1="483.7" x2="1033.3" y2="483.7" stroke="#8d8d8d" stroke-width="2.6" />
<line x1="1025.4" y1="483.7" x2="1025.4" y2="497.1" stroke="#8d8d8d" stroke-width="2.6" />
<path d="M1015.5,497.1 V475.7 H1001.8" fill="none" stroke="#a38b79" stroke-width="2.3" />
<path d="M992.5,475.7 L1004.5,470.9 L1001.5,475.7 L1004.5,480.5 Z" fill="#a38b79" stroke="none" stroke-width="0" />
<path d="M1037.2,497.1 V473.5 H1055.8" fill="none" stroke="#a38b79" stroke-width="2.3" />
<path d="M1064.8,473.5 L1052.8,468.7 L1055.8,473.5 L1052.8,478.3 Z" fill="#a38b79" stroke="none" stroke-width="0" />
<rect x="1046.5" y="487.2" width="5.1" height="18.2" fill="#a38b79" stroke="none" stroke-width="0" rx="0" />
<circle cx="1059.1" cy="484.7" r="2.3" fill="none" stroke="#a0a0a0" stroke-width="1.3"/>
<line x1="1059.1" y1="488.3" x2="1059.1" y2="496.1" stroke="#b0b0b0" stroke-width="1.2" stroke-dasharray="1.5,1.5"/>
<line x1="1088.0" y1="497.1" x2="1256.6" y2="497.1" stroke="#8d8d8d" stroke-width="2.8" />
<line x1="1088.0" y1="483.7" x2="1105.0" y2="483.7" stroke="#8d8d8d" stroke-width="2.6" />
<line x1="1096.5" y1="483.7" x2="1096.5" y2="497.1" stroke="#8d8d8d" stroke-width="2.6" />
<path d="M1104.3,497.1 L1118.7,486.9 H1173.3 V508.3 H1118.7 Z" fill="#1c9a49" stroke="#000" stroke-width="0.6" stroke-opacity="0.35"/>
<text x="1146.5" y="505.7" font-size="21.8" fill="#fbfdff" text-anchor="middle">ttgR</text>
<path d="M1174.0,497.1 A6.4,6.4 0 0 1 1186.8,497.1 Z" fill="#1c9a49" stroke="none" stroke-width="0" />
<path d="M1238.0,497.1 A5.9,5.9 0 0 1 1249.8,497.1 Z" fill="#1c9a49" stroke="none" stroke-width="0" />
<line x1="1191.1" y1="483.7" x2="1207.5" y2="483.7" stroke="#8d8d8d" stroke-width="2.6" />
<line x1="1199.6" y1="483.7" x2="1199.6" y2="497.1" stroke="#8d8d8d" stroke-width="2.6" />
<path d="M1189.7,497.1 V475.7 H1176.0" fill="none" stroke="#1c9a49" stroke-width="2.3" />
<path d="M1166.7,475.7 L1178.7,470.9 L1175.7,475.7 L1178.7,480.5 Z" fill="#1c9a49" stroke="none" stroke-width="0" />
<path d="M1211.4,497.1 V473.5 H1230.0" fill="none" stroke="#1c9a49" stroke-width="2.3" />
<path d="M1239.0,473.5 L1227.0,468.7 L1230.0,473.5 L1227.0,478.3 Z" fill="#1c9a49" stroke="none" stroke-width="0" />
<rect x="1220.7" y="487.2" width="5.1" height="18.2" fill="#1c9a49" stroke="none" stroke-width="0" rx="0" />
<circle cx="1233.3" cy="484.7" r="2.3" fill="none" stroke="#a0a0a0" stroke-width="1.3"/>
<line x1="1233.3" y1="488.3" x2="1233.3" y2="496.1" stroke="#b0b0b0" stroke-width="1.2" stroke-dasharray="1.5,1.5"/>
<line x1="738.0" y1="538.1" x2="906.6" y2="538.1" stroke="#8d8d8d" stroke-width="2.8" />
<line x1="738.0" y1="524.7" x2="755.0" y2="524.7" stroke="#8d8d8d" stroke-width="2.6" />
<line x1="746.5" y1="524.7" x2="746.5" y2="538.1" stroke="#8d8d8d" stroke-width="2.6" />
<path d="M754.3,538.1 L768.7,527.9 H823.3 V549.3 H768.7 Z" fill="#e1541f" stroke="#000" stroke-width="0.6" stroke-opacity="0.35"/>
<text x="794.8" y="546.7" font-size="21.8" fill="#fbfdff" text-anchor="middle">tetR</text>
<path d="M824.0,538.1 A6.4,6.4 0 0 1 836.8,538.1 Z" fill="#e1541f" stroke="none" stroke-width="0" />
<path d="M888.0,538.1 A5.9,5.9 0 0 1 899.8,538.1 Z" fill="#e1541f" stroke="none" stroke-width="0" />
<line x1="841.1" y1="524.7" x2="857.5" y2="524.7" stroke="#8d8d8d" stroke-width="2.6" />
<line x1="849.6" y1="524.7" x2="849.6" y2="538.1" stroke="#8d8d8d" stroke-width="2.6" />
<path d="M839.7,538.1 V516.7 H826.0" fill="none" stroke="#e1541f" stroke-width="2.3" />
<path d="M816.7,516.7 L828.7,511.9 L825.7,516.7 L828.7,521.5 Z" fill="#e1541f" stroke="none" stroke-width="0" />
<path d="M861.4,538.1 V514.5 H880.0" fill="none" stroke="#e1541f" stroke-width="2.3" />
<path d="M889.0,514.5 L877.0,509.7 L880.0,514.5 L877.0,519.3 Z" fill="#e1541f" stroke="none" stroke-width="0" />
<rect x="870.7" y="528.2" width="5.1" height="18.2" fill="#e1541f" stroke="none" stroke-width="0" rx="0" />
<circle cx="883.3" cy="525.7" r="2.3" fill="none" stroke="#a0a0a0" stroke-width="1.3"/>
<line x1="883.3" y1="529.3" x2="883.3" y2="537.1" stroke="#b0b0b0" stroke-width="1.2" stroke-dasharray="1.5,1.5"/>
<line x1="913.8" y1="538.1" x2="1082.4" y2="538.1" stroke="#8d8d8d" stroke-width="2.8" />
<line x1="913.8" y1="524.7" x2="930.8" y2="524.7" stroke="#8d8d8d" stroke-width="2.6" />
<line x1="922.3" y1="524.7" x2="922.3" y2="538.1" stroke="#8d8d8d" stroke-width="2.6" />
<path d="M930.1,538.1 L944.5,527.9 H999.1 V549.3 H944.5 Z" fill="#2aa2dd" stroke="#000" stroke-width="0.6" stroke-opacity="0.35"/>
<text x="971.0" y="546.7" font-size="21.8" fill="#fbfdff" text-anchor="middle">vanR</text>
<path d="M999.8,538.1 A6.4,6.4 0 0 1 1012.6,538.1 Z" fill="#2aa2dd" stroke="none" stroke-width="0" />
<path d="M1063.8,538.1 A5.9,5.9 0 0 1 1075.6,538.1 Z" fill="#2aa2dd" stroke="none" stroke-width="0" />
<line x1="1016.9" y1="524.7" x2="1033.3" y2="524.7" stroke="#8d8d8d" stroke-width="2.6" />
<line x1="1025.4" y1="524.7" x2="1025.4" y2="538.1" stroke="#8d8d8d" stroke-width="2.6" />
<path d="M1015.5,538.1 V516.7 H1001.8" fill="none" stroke="#2aa2dd" stroke-width="2.3" />
<path d="M992.5,516.7 L1004.5,511.9 L1001.5,516.7 L1004.5,521.5 Z" fill="#2aa2dd" stroke="none" stroke-width="0" />
<path d="M1037.2,538.1 V514.5 H1055.8" fill="none" stroke="#2aa2dd" stroke-width="2.3" />
<path d="M1064.8,514.5 L1052.8,509.7 L1055.8,514.5 L1052.8,519.3 Z" fill="#2aa2dd" stroke="none" stroke-width="0" />
<rect x="1046.5" y="528.2" width="5.1" height="18.2" fill="#2aa2dd" stroke="none" stroke-width="0" rx="0" />
<circle cx="1059.1" cy="525.7" r="2.3" fill="none" stroke="#a0a0a0" stroke-width="1.3"/>
<line x1="1059.1" y1="529.3" x2="1059.1" y2="537.1" stroke="#b0b0b0" stroke-width="1.2" stroke-dasharray="1.5,1.5"/>
<line x1="1088.0" y1="538.1" x2="1256.6" y2="538.1" stroke="#8d8d8d" stroke-width="2.8" />
<line x1="1088.0" y1="524.7" x2="1105.0" y2="524.7" stroke="#8d8d8d" stroke-width="2.6" />
<line x1="1096.5" y1="524.7" x2="1096.5" y2="538.1" stroke="#8d8d8d" stroke-width="2.6" />
<path d="M1104.3,538.1 L1118.7,527.9 H1173.3 V549.3 H1118.7 Z" fill="#c9a263" stroke="#000" stroke-width="0.6" stroke-opacity="0.35"/>
<text x="1146.5" y="546.7" font-size="21.8" fill="#fbfdff" text-anchor="middle">cauR</text>
<path d="M1174.0,538.1 A6.4,6.4 0 0 1 1186.8,538.1 Z" fill="#c9a263" stroke="none" stroke-width="0" />
<path d="M1238.0,538.1 A5.9,5.9 0 0 1 1249.8,538.1 Z" fill="#c9a263" stroke="none" stroke-width="0" />
<line x1="1191.1" y1="524.7" x2="1207.5" y2="524.7" stroke="#8d8d8d" stroke-width="2.6" />
<line x1="1199.6" y1="524.7" x2="1199.6" y2="538.1" stroke="#8d8d8d" stroke-width="2.6" />
<path d="M1189.7,538.1 V516.7 H1176.0" fill="none" stroke="#c9a263" stroke-width="2.3" />
<path d="M1166.7,516.7 L1178.7,511.9 L1175.7,516.7 L1178.7,521.5 Z" fill="#c9a263" stroke="none" stroke-width="0" />
<path d="M1211.4,538.1 V514.5 H1230.0" fill="none" stroke="#c9a263" stroke-width="2.3" />
<path d="M1239.0,514.5 L1227.0,509.7 L1230.0,514.5 L1227.0,519.3 Z" fill="#c9a263" stroke="none" stroke-width="0" />
<rect x="1220.7" y="528.2" width="5.1" height="18.2" fill="#c9a263" stroke="none" stroke-width="0" rx="0" />
<circle cx="1233.3" cy="525.7" r="2.3" fill="none" stroke="#a0a0a0" stroke-width="1.3"/>
<line x1="1233.3" y1="529.3" x2="1233.3" y2="537.1" stroke="#b0b0b0" stroke-width="1.2" stroke-dasharray="1.5,1.5"/>
<path d="M846,569 C853.0,565.5 858.0,572.0 866,566.5" fill="none" stroke="#ded2d6" stroke-width="2.2" />
<path d="M849,579 C856.4,575.5 861.6,582.0 870,576.5" fill="none" stroke="#ded2d6" stroke-width="2.2" />
<path d="M849,596 C856.4,592.5 861.6,599.0 870,593.5" fill="none" stroke="#ded2d6" stroke-width="2.2" />
<path d="M846,611.5 C850.9,608.0 854.4,614.5 860,609.0" fill="none" stroke="#ded2d6" stroke-width="2.2" />
<rect x="735.5" y="559.4" width="114.7" height="56.8" fill="#d5c3c9" stroke="none" stroke-width="0" rx="28.4" />
<text x="751.2" y="596.8" font-size="26.4" fill="#111" font-style="italic">E. coli</text>
<path d="M1017,568 C1025.0,564.5 1030.8,571.0 1040,565.5" fill="none" stroke="#8c9fbc" stroke-width="2.4" />
<path d="M1019,577 C1027.4,573.5 1033.4,580.0 1043,574.5" fill="none" stroke="#8c9fbc" stroke-width="2.4" />
<path d="M1019,596 C1027.4,592.5 1033.4,599.0 1043,593.5" fill="none" stroke="#8c9fbc" stroke-width="2.4" />
<path d="M1014,612 C1022.0,608.5 1027.8,615.0 1037,609.5" fill="none" stroke="#8c9fbc" stroke-width="2.4" />
<rect x="875.6" y="559.2" width="145.7" height="57.3" fill="#8ba0bf" stroke="none" stroke-width="0" rx="28.6" />
<text x="885.7" y="596.7" font-size="26.8" fill="#111" font-style="italic">B. subtilis</text>
<rect x="1044.7" y="558.6" width="210.6" height="57.5" fill="#e9a98f" stroke="none" stroke-width="0" rx="42" ry="28.7"/>
<text x="1068.2" y="595.6" font-size="26.9" fill="#111" font-style="italic">C. glutamicum</text>
<path d="M720.1,594.1 L719.0,591.4 L717.9,588.8 L716.8,586.2 L715.7,583.8 L714.6,581.4 L713.4,579.1 L712.2,576.8 L711.0,574.6 L709.8,572.5 L708.6,570.5 L707.4,568.6 L706.1,566.7 L704.8,564.9 L703.5,563.1 L702.2,561.5 L700.8,559.9 L699.5,558.4 L698.1,556.9 L696.7,555.6 L695.2,554.3 L693.8,553.0 L692.3,551.9 L690.8,550.8 L689.2,549.8 L686.8,554.2 L688.2,554.9 L689.7,555.8 L691.1,556.7 L692.5,557.6 L694.0,558.7 L695.4,559.9 L696.8,561.1 L698.2,562.4 L699.6,563.8 L701.0,565.3 L702.3,566.8 L703.7,568.5 L705.1,570.2 L706.4,572.0 L707.7,573.9 L709.0,575.8 L710.4,577.9 L711.6,580.0 L712.9,582.2 L714.2,584.5 L715.5,586.9 L716.7,589.3 L717.9,591.9 L719.1,594.5 Z" fill="#e9aa92" stroke="none" stroke-width="0" />
<path d="M670.8,536.8 L696.2,541.4 L689.5,551.0 L686.1,558.2 Z" fill="#e9aa92" stroke="none" stroke-width="0" />
<path d="M719.3,593.9 L717.6,595.2 L715.9,596.5 L714.3,597.8 L712.6,599.1 L710.9,600.5 L709.3,601.8 L707.6,603.2 L706.0,604.7 L704.3,606.1 L702.7,607.6 L701.1,609.1 L699.4,610.6 L697.8,612.1 L696.2,613.7 L694.6,615.3 L693.0,616.9 L691.4,618.5 L689.8,620.2 L688.2,621.9 L686.6,623.6 L685.0,625.3 L683.4,627.0 L681.8,628.8 L680.3,630.6 L683.7,633.4 L685.2,631.6 L686.6,629.7 L688.1,627.9 L689.5,626.1 L691.0,624.4 L692.4,622.6 L693.9,620.9 L695.4,619.2 L696.9,617.5 L698.4,615.8 L699.9,614.2 L701.4,612.5 L702.9,610.9 L704.4,609.4 L705.9,607.8 L707.5,606.3 L709.0,604.7 L710.5,603.2 L712.1,601.8 L713.6,600.3 L715.2,598.9 L716.8,597.5 L718.3,596.1 L719.9,594.7 Z" fill="#dcc6cd" stroke="none" stroke-width="0" />
<path d="M667.4,652.5 L670.8,626.4 L678.0,633.0 L688.2,635.7 Z" fill="#dcc6cd" stroke="none" stroke-width="0" />
<path d="M719.1,594.5 L719.8,596.3 L720.5,598.1 L721.1,599.9 L721.6,601.7 L722.1,603.5 L722.6,605.4 L723.1,607.3 L723.5,609.2 L723.9,611.2 L724.2,613.1 L724.5,615.1 L724.8,617.1 L725.0,619.1 L725.2,621.2 L725.4,623.2 L725.5,625.3 L725.6,627.5 L725.7,629.6 L725.7,631.8 L725.7,633.9 L725.6,636.1 L725.5,638.4 L725.4,640.6 L725.3,642.9 L730.7,643.1 L730.7,640.7 L730.7,638.4 L730.6,636.1 L730.4,633.8 L730.2,631.5 L730.0,629.3 L729.8,627.1 L729.5,625.0 L729.2,622.8 L728.8,620.7 L728.4,618.6 L728.0,616.5 L727.5,614.5 L727.0,612.5 L726.5,610.5 L725.9,608.6 L725.3,606.7 L724.7,604.8 L724.0,602.9 L723.3,601.1 L722.5,599.3 L721.7,597.5 L720.9,595.8 L720.1,594.1 Z" fill="#7189b6" stroke="none" stroke-width="0" />
<path d="M723.6,665.8 L718.9,640.4 L728.5,644.0 L739.0,643.8 Z" fill="#7189b6" stroke="none" stroke-width="0" />
<text x="5.6" y="406.2" font-size="32">B</text>
<circle cx="121.5" cy="597.5" r="3.7" fill="#e0e0e6" stroke="#000" stroke-width="1.4"/>
<circle cx="128.9" cy="597.5" r="3.7" fill="#f2f2f4" stroke="#000" stroke-width="1.4"/>
<circle cx="136.3" cy="597.5" r="3.7" fill="#e0e0e6" stroke="#000" stroke-width="1.4"/>
<circle cx="143.7" cy="597.5" r="3.7" fill="#f2f2f4" stroke="#000" stroke-width="1.4"/>
<circle cx="151.1" cy="597.5" r="3.7" fill="#e0e0e6" stroke="#000" stroke-width="1.4"/>
<circle cx="158.5" cy="597.5" r="3.7" fill="#f2f2f4" stroke="#000" stroke-width="1.4"/>
<rect x="173.4" y="546.1" width="22.4" height="52.2" fill="#c9a6c1" stroke="none" stroke-width="0" rx="0" />
<circle cx="177.2" cy="548.6" r="3.7" fill="#b995b2" stroke="#000" stroke-width="1.4"/>
<circle cx="184.6" cy="543.6" r="3.7" fill="#f4f4f6" stroke="#000" stroke-width="1.4"/>
<circle cx="192.0" cy="546.6" r="3.7" fill="#e6e6ee" stroke="#000" stroke-width="1.4"/>
<line x1="182.1" y1="543.6" x2="187.1" y2="543.6" stroke="#000" stroke-width="1.2" />
<rect x="195.8" y="447.3" width="22.4" height="151.0" fill="#5479ab" stroke="none" stroke-width="0" rx="0" />
<circle cx="199.6" cy="449.8" r="3.7" fill="#4a6c9c" stroke="#000" stroke-width="1.4"/>
<circle cx="207.0" cy="444.8" r="3.7" fill="#f4f4f6" stroke="#000" stroke-width="1.4"/>
<circle cx="214.4" cy="447.8" r="3.7" fill="#e6e6ee" stroke="#000" stroke-width="1.4"/>
<line x1="204.5" y1="444.8" x2="209.5" y2="444.8" stroke="#000" stroke-width="1.2" />
<rect x="229.2" y="570.0" width="22.4" height="28.3" fill="#c9a6c1" stroke="none" stroke-width="0" rx="0" />
<circle cx="233.0" cy="572.5" r="3.7" fill="#b995b2" stroke="#000" stroke-width="1.4"/>
<circle cx="240.4" cy="567.5" r="3.7" fill="#f4f4f6" stroke="#000" stroke-width="1.4"/>
<circle cx="247.8" cy="570.5" r="3.7" fill="#e6e6ee" stroke="#000" stroke-width="1.4"/>
<line x1="237.9" y1="567.5" x2="242.9" y2="567.5" stroke="#000" stroke-width="1.2" />
<rect x="251.6" y="563.1" width="22.4" height="35.2" fill="#5479ab" stroke="none" stroke-width="0" rx="0" />
<circle cx="255.4" cy="565.6" r="3.7" fill="#4a6c9c" stroke="#000" stroke-width="1.4"/>
<circle cx="262.8" cy="560.6" r="3.7" fill="#f4f4f6" stroke="#000" stroke-width="1.4"/>
<circle cx="270.2" cy="563.6" r="3.7" fill="#e6e6ee" stroke="#000" stroke-width="1.4"/>
<line x1="260.3" y1="560.6" x2="265.3" y2="560.6" stroke="#000" stroke-width="1.2" />
<rect x="285.0" y="577.5" width="22.4" height="20.8" fill="#c9a6c1" stroke="none" stroke-width="0" rx="0" />
<circle cx="288.8" cy="580.0" r="3.7" fill="#b995b2" stroke="#000" stroke-width="1.4"/>
<circle cx="296.2" cy="575.0" r="3.7" fill="#f4f4f6" stroke="#000" stroke-width="1.4"/>
<circle cx="303.6" cy="578.0" r="3.7" fill="#e6e6ee" stroke="#000" stroke-width="1.4"/>
<line x1="293.7" y1="575.0" x2="298.7" y2="575.0" stroke="#000" stroke-width="1.2" />
<rect x="307.4" y="573.1" width="22.4" height="25.2" fill="#5479ab" stroke="none" stroke-width="0" rx="0" />
<circle cx="311.2" cy="575.6" r="3.7" fill="#4a6c9c" stroke="#000" stroke-width="1.4"/>
<circle cx="318.6" cy="570.6" r="3.7" fill="#f4f4f6" stroke="#000" stroke-width="1.4"/>
<circle cx="326.0" cy="573.6" r="3.7" fill="#e6e6ee" stroke="#000" stroke-width="1.4"/>
<line x1="316.1" y1="570.6" x2="321.1" y2="570.6" stroke="#000" stroke-width="1.2" />
<rect x="340.8" y="584.5" width="22.4" height="13.8" fill="#c9a6c1" stroke="none" stroke-width="0" rx="0" />
<circle cx="344.6" cy="587.0" r="3.7" fill="#b995b2" stroke="#000" stroke-width="1.4"/>
<circle cx="352.0" cy="582.0" r="3.7" fill="#f4f4f6" stroke="#000" stroke-width="1.4"/>
<circle cx="359.4" cy="585.0" r="3.7" fill="#e6e6ee" stroke="#000" stroke-width="1.4"/>
<line x1="349.5" y1="582.0" x2="354.5" y2="582.0" stroke="#000" stroke-width="1.2" />
<rect x="363.2" y="581.3" width="22.4" height="17.0" fill="#5479ab" stroke="none" stroke-width="0" rx="0" />
<circle cx="367.0" cy="583.8" r="3.7" fill="#4a6c9c" stroke="#000" stroke-width="1.4"/>
<circle cx="374.4" cy="578.8" r="3.7" fill="#f4f4f6" stroke="#000" stroke-width="1.4"/>
<circle cx="381.8" cy="581.8" r="3.7" fill="#e6e6ee" stroke="#000" stroke-width="1.4"/>
<line x1="371.9" y1="578.8" x2="376.9" y2="578.8" stroke="#000" stroke-width="1.2" />
<rect x="396.6" y="588.9" width="22.4" height="9.4" fill="#c9a6c1" stroke="none" stroke-width="0" rx="0" />
<circle cx="400.4" cy="591.4" r="3.7" fill="#b995b2" stroke="#000" stroke-width="1.4"/>
<circle cx="407.8" cy="586.4" r="3.7" fill="#f4f4f6" stroke="#000" stroke-width="1.4"/>
<circle cx="415.2" cy="589.4" r="3.7" fill="#e6e6ee" stroke="#000" stroke-width="1.4"/>
<line x1="405.3" y1="586.4" x2="410.3" y2="586.4" stroke="#000" stroke-width="1.2" />
<rect x="419.0" y="583.2" width="22.4" height="15.1" fill="#5479ab" stroke="none" stroke-width="0" rx="0" />
<circle cx="422.8" cy="585.7" r="3.7" fill="#4a6c9c" stroke="#000" stroke-width="1.4"/>
<circle cx="430.2" cy="580.7" r="3.7" fill="#f4f4f6" stroke="#000" stroke-width="1.4"/>
<circle cx="437.6" cy="583.7" r="3.7" fill="#e6e6ee" stroke="#000" stroke-width="1.4"/>
<line x1="427.7" y1="580.7" x2="432.7" y2="580.7" stroke="#000" stroke-width="1.2" />
<rect x="452.4" y="584.5" width="22.4" height="13.8" fill="#c9a6c1" stroke="none" stroke-width="0" rx="0" />
<circle cx="456.2" cy="587.0" r="3.7" fill="#b995b2" stroke="#000" stroke-width="1.4"/>
<circle cx="463.6" cy="582.0" r="3.7" fill="#f4f4f6" stroke="#000" stroke-width="1.4"/>
<circle cx="471.0" cy="585.0" r="3.7" fill="#e6e6ee" stroke="#000" stroke-width="1.4"/>
<line x1="461.1" y1="582.0" x2="466.1" y2="582.0" stroke="#000" stroke-width="1.2" />
<rect x="474.8" y="580.7" width="22.4" height="17.6" fill="#5479ab" stroke="none" stroke-width="0" rx="0" />
<circle cx="478.6" cy="583.2" r="3.7" fill="#4a6c9c" stroke="#000" stroke-width="1.4"/>
<circle cx="486.0" cy="578.2" r="3.7" fill="#f4f4f6" stroke="#000" stroke-width="1.4"/>
<circle cx="493.4" cy="581.2" r="3.7" fill="#e6e6ee" stroke="#000" stroke-width="1.4"/>
<line x1="483.5" y1="578.2" x2="488.5" y2="578.2" stroke="#000" stroke-width="1.2" />
<rect x="508.2" y="592.6" width="22.4" height="5.7" fill="#c9a6c1" stroke="none" stroke-width="0" rx="0" />
<circle cx="512.0" cy="592.6" r="3.7" fill="#eeeef2" stroke="#000" stroke-width="1.4"/>
<circle cx="519.4" cy="592.6" r="3.7" fill="#eeeef2" stroke="#000" stroke-width="1.4"/>
<circle cx="526.8" cy="592.6" r="3.7" fill="#eeeef2" stroke="#000" stroke-width="1.4"/>
<rect x="530.6" y="591.4" width="22.4" height="6.9" fill="#5479ab" stroke="none" stroke-width="0" rx="0" />
<circle cx="534.4" cy="591.4" r="3.7" fill="#eeeef2" stroke="#000" stroke-width="1.4"/>
<circle cx="541.8" cy="591.4" r="3.7" fill="#eeeef2" stroke="#000" stroke-width="1.4"/>
<circle cx="549.2" cy="591.4" r="3.7" fill="#eeeef2" stroke="#000" stroke-width="1.4"/>
<rect x="564.0" y="593.3" width="22.4" height="5.0" fill="#c9a6c1" stroke="none" stroke-width="0" rx="0" />
<circle cx="567.8" cy="593.3" r="3.7" fill="#eeeef2" stroke="#000" stroke-width="1.4"/>
<circle cx="575.2" cy="593.3" r="3.7" fill="#eeeef2" stroke="#000" stroke-width="1.4"/>
<circle cx="582.6" cy="593.3" r="3.7" fill="#eeeef2" stroke="#000" stroke-width="1.4"/>
<rect x="586.4" y="590.1" width="22.4" height="8.2" fill="#5479ab" stroke="none" stroke-width="0" rx="0" />
<circle cx="590.2" cy="592.6" r="3.7" fill="#4a6c9c" stroke="#000" stroke-width="1.4"/>
<circle cx="597.6" cy="587.6" r="3.7" fill="#f4f4f6" stroke="#000" stroke-width="1.4"/>
<circle cx="605.0" cy="590.6" r="3.7" fill="#e6e6ee" stroke="#000" stroke-width="1.4"/>
<line x1="595.1" y1="587.6" x2="600.1" y2="587.6" stroke="#000" stroke-width="1.2" />
<rect x="619.8" y="594.5" width="22.4" height="3.8" fill="#c9a6c1" stroke="none" stroke-width="0" rx="0" />
<circle cx="623.6" cy="594.5" r="3.7" fill="#eeeef2" stroke="#000" stroke-width="1.4"/>
<circle cx="631.0" cy="594.5" r="3.7" fill="#eeeef2" stroke="#000" stroke-width="1.4"/>
<circle cx="638.4" cy="594.5" r="3.7" fill="#eeeef2" stroke="#000" stroke-width="1.4"/>
<rect x="642.2" y="590.1" width="22.4" height="8.2" fill="#5479ab" stroke="none" stroke-width="0" rx="0" />
<circle cx="646.0" cy="592.6" r="3.7" fill="#4a6c9c" stroke="#000" stroke-width="1.4"/>
<circle cx="653.4" cy="587.6" r="3.7" fill="#f4f4f6" stroke="#000" stroke-width="1.4"/>
<circle cx="660.8" cy="590.6" r="3.7" fill="#e6e6ee" stroke="#000" stroke-width="1.4"/>
<line x1="650.9" y1="587.6" x2="655.9" y2="587.6" stroke="#000" stroke-width="1.2" />
<path d="M107.5,409.5 H676 V598.3 H107.5 Z" fill="none" stroke="#000" stroke-width="3.3" />
<line x1="140.0" y1="598.3" x2="140.0" y2="609.3" stroke="#000" stroke-width="3" />
<line x1="195.8" y1="598.3" x2="195.8" y2="609.3" stroke="#000" stroke-width="3" />
<line x1="251.6" y1="598.3" x2="251.6" y2="609.3" stroke="#000" stroke-width="3" />
<line x1="307.4" y1="598.3" x2="307.4" y2="609.3" stroke="#000" stroke-width="3" />
<line x1="363.2" y1="598.3" x2="363.2" y2="609.3" stroke="#000" stroke-width="3" />
<line x1="419.0" y1="598.3" x2="419.0" y2="609.3" stroke="#000" stroke-width="3" />
<line x1="474.8" y1="598.3" x2="474.8" y2="609.3" stroke="#000" stroke-width="3" />
<line x1="530.6" y1="598.3" x2="530.6" y2="609.3" stroke="#000" stroke-width="3" />
<line x1="586.4" y1="598.3" x2="586.4" y2="609.3" stroke="#000" stroke-width="3" />
<line x1="642.2" y1="598.3" x2="642.2" y2="609.3" stroke="#000" stroke-width="3" />
<line x1="95.5" y1="598.3" x2="107.5" y2="598.3" stroke="#000" stroke-width="3" />
<text transform="translate(87.5,600.5) rotate(-90)" font-size="27" text-anchor="middle">0</text>
<line x1="100.5" y1="566.8" x2="107.5" y2="566.8" stroke="#000" stroke-width="3" />
<line x1="95.5" y1="535.4" x2="107.5" y2="535.4" stroke="#000" stroke-width="3" />
<text transform="translate(87.5,536.6) rotate(-90)" font-size="27" text-anchor="middle">1</text>
<line x1="100.5" y1="503.9" x2="107.5" y2="503.9" stroke="#000" stroke-width="3" />
<line x1="95.5" y1="472.5" x2="107.5" y2="472.5" stroke="#000" stroke-width="3" />
<text transform="translate(87.5,471.4) rotate(-90)" font-size="27" text-anchor="middle">2</text>
<line x1="100.5" y1="441.0" x2="107.5" y2="441.0" stroke="#000" stroke-width="3" />
<line x1="95.5" y1="409.6" x2="107.5" y2="409.6" stroke="#000" stroke-width="3" />
<text transform="translate(87.5,407.8) rotate(-90)" font-size="27" text-anchor="middle">3</text>
<text x="121.4" y="637.3" font-size="26.8">NC</text>
<text x="167.1" y="637.3" font-size="26.7">P</text>
<text x="187.0" y="644.3" font-size="19.6" font-style="italic">grac</text>
<text x="223.5" y="637.3" font-size="26.7">P</text>
<text x="244.2" y="644.3" font-size="19.6" font-style="italic">xylA</text>
<text x="286.9" y="637.3" font-size="26.7">P</text>
<text x="305.9" y="644.3" font-size="19.6" font-style="italic">tet</text>
<text x="333.7" y="637.3" font-size="26.7">P</text>
<text x="354.1" y="644.3" font-size="19.6" font-style="italic">phlF</text>
<text x="392.1" y="637.3" font-size="26.7">P</text>
<text x="411.3" y="644.3" font-size="19.6" font-style="italic">cym</text>
<text x="450.2" y="637.3" font-size="26.7">P</text>
<text x="469.1" y="644.3" font-size="19.6" font-style="italic">van</text>
<text x="505.0" y="637.3" font-size="26.7">P</text>
<text x="524.6" y="644.3" font-size="19.6" font-style="italic">betl</text>
<text x="566.3" y="637.3" font-size="26.7">P</text>
<text x="585.3" y="644.3" font-size="19.6" font-style="italic">ttg</text>
<text x="617.2" y="637.3" font-size="26.7">P</text>
<text x="636.4" y="644.3" font-size="19.6" font-style="italic">cau</text>
<text x="114.0" y="436.3" font-size="26.9" font-style="italic">C. glutamicum</text>
<rect x="454.0" y="421.0" width="41.0" height="14.0" fill="#c9a6c1" stroke="none" stroke-width="0" rx="0" />
<rect x="454.0" y="448.4" width="41.0" height="13.8" fill="#5479ab" stroke="none" stroke-width="0" rx="0" />
<text x="518.9" y="436.7" font-size="27.1">W/o inducer</text>
<text x="518.9" y="464.0" font-size="27.0">With inducer</text>
<text transform="translate(52.3,623.1) rotate(-90)" font-size="26.6">FI/OD<tspan font-size="15.4" dy="9.2">600</tspan><tspan dy="-9.2"> (×10</tspan><tspan font-size="15.4" dy="-9.2">3</tspan><tspan dy="9.2"> a.u.)</tspan></text>
<circle cx="121.5" cy="850.4" r="3.7" fill="#e0e0e6" stroke="#000" stroke-width="1.4"/>
<circle cx="128.9" cy="850.4" r="3.7" fill="#f2f2f4" stroke="#000" stroke-width="1.4"/>
<circle cx="136.3" cy="850.4" r="3.7" fill="#e0e0e6" stroke="#000" stroke-width="1.4"/>
<circle cx="143.7" cy="850.4" r="3.7" fill="#f2f2f4" stroke="#000" stroke-width="1.4"/>
<circle cx="151.1" cy="850.4" r="3.7" fill="#e0e0e6" stroke="#000" stroke-width="1.4"/>
<circle cx="158.5" cy="850.4" r="3.7" fill="#f2f2f4" stroke="#000" stroke-width="1.4"/>
<rect x="173.4" y="840.5" width="22.4" height="10.7" fill="#c9a6c1" stroke="none" stroke-width="0" rx="0" />
<circle cx="177.2" cy="843.0" r="3.7" fill="#b995b2" stroke="#000" stroke-width="1.4"/>
<circle cx="184.6" cy="838.0" r="3.7" fill="#f4f4f6" stroke="#000" stroke-width="1.4"/>
<circle cx="192.0" cy="841.0" r="3.7" fill="#e6e6ee" stroke="#000" stroke-width="1.4"/>
<line x1="182.1" y1="838.0" x2="187.1" y2="838.0" stroke="#000" stroke-width="1.2" />
<rect x="195.8" y="839.2" width="22.4" height="12.0" fill="#5479ab" stroke="none" stroke-width="0" rx="0" />
<circle cx="199.6" cy="841.7" r="3.7" fill="#4a6c9c" stroke="#000" stroke-width="1.4"/>
<circle cx="207.0" cy="836.7" r="3.7" fill="#f4f4f6" stroke="#000" stroke-width="1.4"/>
<circle cx="214.4" cy="839.7" r="3.7" fill="#e6e6ee" stroke="#000" stroke-width="1.4"/>
<line x1="204.5" y1="836.7" x2="209.5" y2="836.7" stroke="#000" stroke-width="1.2" />
<rect x="229.2" y="712.6" width="22.4" height="138.6" fill="#c9a6c1" stroke="none" stroke-width="0" rx="0" />
<line x1="240.4" y1="702.5" x2="240.4" y2="712.6" stroke="#000" stroke-width="1.4" />
<line x1="236.4" y1="702.5" x2="244.4" y2="702.5" stroke="#000" stroke-width="1.4" />
<circle cx="239.4" cy="702.5" r="3.7" fill="#b995b2" stroke="#000" stroke-width="1.4"/>
<circle cx="240.4" cy="712.5" r="3.7" fill="#f4f4f6" stroke="#000" stroke-width="1.4"/>
<circle cx="240.4" cy="722.0" r="3.7" fill="#e6e6ee" stroke="#000" stroke-width="1.4"/>
<rect x="251.6" y="718.9" width="22.4" height="132.3" fill="#5479ab" stroke="none" stroke-width="0" rx="0" />
<line x1="262.8" y1="700.0" x2="262.8" y2="718.9" stroke="#000" stroke-width="1.4" />
<line x1="258.8" y1="700.0" x2="266.8" y2="700.0" stroke="#000" stroke-width="1.4" />
<circle cx="262.8" cy="700.0" r="3.7" fill="#4a6c9c" stroke="#000" stroke-width="1.4"/>
<circle cx="262.8" cy="721.0" r="3.7" fill="#f4f4f6" stroke="#000" stroke-width="1.4"/>
<circle cx="262.8" cy="735.8" r="3.7" fill="#e6e6ee" stroke="#000" stroke-width="1.4"/>
<rect x="285.0" y="839.9" width="22.4" height="11.3" fill="#c9a6c1" stroke="none" stroke-width="0" rx="0" />
<circle cx="288.8" cy="842.4" r="3.7" fill="#b995b2" stroke="#000" stroke-width="1.4"/>
<circle cx="296.2" cy="837.4" r="3.7" fill="#f4f4f6" stroke="#000" stroke-width="1.4"/>
<circle cx="303.6" cy="840.4" r="3.7" fill="#e6e6ee" stroke="#000" stroke-width="1.4"/>
<line x1="293.7" y1="837.4" x2="298.7" y2="837.4" stroke="#000" stroke-width="1.2" />
<rect x="307.4" y="770.6" width="22.4" height="80.6" fill="#5479ab" stroke="none" stroke-width="0" rx="0" />
<circle cx="311.2" cy="773.1" r="3.7" fill="#4a6c9c" stroke="#000" stroke-width="1.4"/>
<circle cx="318.6" cy="768.1" r="3.7" fill="#f4f4f6" stroke="#000" stroke-width="1.4"/>
<circle cx="326.0" cy="771.1" r="3.7" fill="#e6e6ee" stroke="#000" stroke-width="1.4"/>
<line x1="316.1" y1="768.1" x2="321.1" y2="768.1" stroke="#000" stroke-width="1.2" />
<rect x="340.8" y="842.4" width="22.4" height="8.8" fill="#c9a6c1" stroke="none" stroke-width="0" rx="0" />
<circle cx="344.6" cy="844.9" r="3.7" fill="#b995b2" stroke="#000" stroke-width="1.4"/>
<circle cx="352.0" cy="839.9" r="3.7" fill="#f4f4f6" stroke="#000" stroke-width="1.4"/>
<circle cx="359.4" cy="842.9" r="3.7" fill="#e6e6ee" stroke="#000" stroke-width="1.4"/>
<line x1="349.5" y1="839.9" x2="354.5" y2="839.9" stroke="#000" stroke-width="1.2" />
<rect x="363.2" y="764.3" width="22.4" height="86.9" fill="#5479ab" stroke="none" stroke-width="0" rx="0" />
<circle cx="367.0" cy="766.8" r="3.7" fill="#4a6c9c" stroke="#000" stroke-width="1.4"/>
<circle cx="374.4" cy="761.8" r="3.7" fill="#f4f4f6" stroke="#000" stroke-width="1.4"/>
<circle cx="381.8" cy="764.8" r="3.7" fill="#e6e6ee" stroke="#000" stroke-width="1.4"/>
<line x1="371.9" y1="761.8" x2="376.9" y2="761.8" stroke="#000" stroke-width="1.2" />
<rect x="396.6" y="840.5" width="22.4" height="10.7" fill="#c9a6c1" stroke="none" stroke-width="0" rx="0" />
<circle cx="400.4" cy="843.0" r="3.7" fill="#b995b2" stroke="#000" stroke-width="1.4"/>
<circle cx="407.8" cy="838.0" r="3.7" fill="#f4f4f6" stroke="#000" stroke-width="1.4"/>
<circle cx="415.2" cy="841.0" r="3.7" fill="#e6e6ee" stroke="#000" stroke-width="1.4"/>
<line x1="405.3" y1="838.0" x2="410.3" y2="838.0" stroke="#000" stroke-width="1.2" />
<rect x="419.0" y="692.4" width="22.4" height="158.8" fill="#5479ab" stroke="none" stroke-width="0" rx="0" />
<circle cx="422.8" cy="694.9" r="3.7" fill="#4a6c9c" stroke="#000" stroke-width="1.4"/>
<circle cx="430.2" cy="689.9" r="3.7" fill="#f4f4f6" stroke="#000" stroke-width="1.4"/>
<circle cx="437.6" cy="692.9" r="3.7" fill="#e6e6ee" stroke="#000" stroke-width="1.4"/>
<line x1="427.7" y1="689.9" x2="432.7" y2="689.9" stroke="#000" stroke-width="1.2" />
<rect x="452.4" y="838.6" width="22.4" height="12.6" fill="#c9a6c1" stroke="none" stroke-width="0" rx="0" />
<circle cx="456.2" cy="841.1" r="3.7" fill="#b995b2" stroke="#000" stroke-width="1.4"/>
<circle cx="463.6" cy="836.1" r="3.7" fill="#f4f4f6" stroke="#000" stroke-width="1.4"/>
<circle cx="471.0" cy="839.1" r="3.7" fill="#e6e6ee" stroke="#000" stroke-width="1.4"/>
<line x1="461.1" y1="836.1" x2="466.1" y2="836.1" stroke="#000" stroke-width="1.2" />
<rect x="474.8" y="742.8" width="22.4" height="108.4" fill="#5479ab" stroke="none" stroke-width="0" rx="0" />
<circle cx="478.6" cy="745.3" r="3.7" fill="#4a6c9c" stroke="#000" stroke-width="1.4"/>
<circle cx="486.0" cy="740.3" r="3.7" fill="#f4f4f6" stroke="#000" stroke-width="1.4"/>
<circle cx="493.4" cy="743.3" r="3.7" fill="#e6e6ee" stroke="#000" stroke-width="1.4"/>
<line x1="483.5" y1="740.3" x2="488.5" y2="740.3" stroke="#000" stroke-width="1.2" />
<rect x="508.2" y="838.0" width="22.4" height="13.2" fill="#c9a6c1" stroke="none" stroke-width="0" rx="0" />
<circle cx="512.0" cy="840.5" r="3.7" fill="#b995b2" stroke="#000" stroke-width="1.4"/>
<circle cx="519.4" cy="835.5" r="3.7" fill="#f4f4f6" stroke="#000" stroke-width="1.4"/>
<circle cx="526.8" cy="838.5" r="3.7" fill="#e6e6ee" stroke="#000" stroke-width="1.4"/>
<line x1="516.9" y1="835.5" x2="521.9" y2="835.5" stroke="#000" stroke-width="1.2" />
<rect x="530.6" y="761.7" width="22.4" height="89.5" fill="#5479ab" stroke="none" stroke-width="0" rx="0" />
<circle cx="534.4" cy="764.2" r="3.7" fill="#4a6c9c" stroke="#000" stroke-width="1.4"/>
<circle cx="541.8" cy="759.2" r="3.7" fill="#f4f4f6" stroke="#000" stroke-width="1.4"/>
<circle cx="549.2" cy="762.2" r="3.7" fill="#e6e6ee" stroke="#000" stroke-width="1.4"/>
<line x1="539.3" y1="759.2" x2="544.3" y2="759.2" stroke="#000" stroke-width="1.2" />
<rect x="564.0" y="846.2" width="22.4" height="5.0" fill="#c9a6c1" stroke="none" stroke-width="0" rx="0" />
<circle cx="567.8" cy="846.2" r="3.7" fill="#eeeef2" stroke="#000" stroke-width="1.4"/>
<circle cx="575.2" cy="846.2" r="3.7" fill="#eeeef2" stroke="#000" stroke-width="1.4"/>
<circle cx="582.6" cy="846.2" r="3.7" fill="#eeeef2" stroke="#000" stroke-width="1.4"/>
<rect x="586.4" y="825.4" width="22.4" height="25.8" fill="#5479ab" stroke="none" stroke-width="0" rx="0" />
<circle cx="590.2" cy="827.9" r="3.7" fill="#4a6c9c" stroke="#000" stroke-width="1.4"/>
<circle cx="597.6" cy="822.9" r="3.7" fill="#f4f4f6" stroke="#000" stroke-width="1.4"/>
<circle cx="605.0" cy="825.9" r="3.7" fill="#e6e6ee" stroke="#000" stroke-width="1.4"/>
<line x1="595.1" y1="822.9" x2="600.1" y2="822.9" stroke="#000" stroke-width="1.2" />
<rect x="619.8" y="845.5" width="22.4" height="5.7" fill="#c9a6c1" stroke="none" stroke-width="0" rx="0" />
<circle cx="623.6" cy="845.5" r="3.7" fill="#eeeef2" stroke="#000" stroke-width="1.4"/>
<circle cx="631.0" cy="845.5" r="3.7" fill="#eeeef2" stroke="#000" stroke-width="1.4"/>
<circle cx="638.4" cy="845.5" r="3.7" fill="#eeeef2" stroke="#000" stroke-width="1.4"/>
<rect x="642.2" y="813.4" width="22.4" height="37.8" fill="#5479ab" stroke="none" stroke-width="0" rx="0" />
<circle cx="646.0" cy="815.9" r="3.7" fill="#4a6c9c" stroke="#000" stroke-width="1.4"/>
<circle cx="653.4" cy="810.9" r="3.7" fill="#f4f4f6" stroke="#000" stroke-width="1.4"/>
<circle cx="660.8" cy="813.9" r="3.7" fill="#e6e6ee" stroke="#000" stroke-width="1.4"/>
<line x1="650.9" y1="810.9" x2="655.9" y2="810.9" stroke="#000" stroke-width="1.2" />
<path d="M107.5,662.3 H676 V851.2 H107.5 Z" fill="none" stroke="#000" stroke-width="3.3" />
<line x1="140.0" y1="851.2" x2="140.0" y2="862.2" stroke="#000" stroke-width="3" />
<line x1="195.8" y1="851.2" x2="195.8" y2="862.2" stroke="#000" stroke-width="3" />
<line x1="251.6" y1="851.2" x2="251.6" y2="862.2" stroke="#000" stroke-width="3" />
<line x1="307.4" y1="851.2" x2="307.4" y2="862.2" stroke="#000" stroke-width="3" />
<line x1="363.2" y1="851.2" x2="363.2" y2="862.2" stroke="#000" stroke-width="3" />
<line x1="419.0" y1="851.2" x2="419.0" y2="862.2" stroke="#000" stroke-width="3" />
<line x1="474.8" y1="851.2" x2="474.8" y2="862.2" stroke="#000" stroke-width="3" />
<line x1="530.6" y1="851.2" x2="530.6" y2="862.2" stroke="#000" stroke-width="3" />
<line x1="586.4" y1="851.2" x2="586.4" y2="862.2" stroke="#000" stroke-width="3" />
<line x1="642.2" y1="851.2" x2="642.2" y2="862.2" stroke="#000" stroke-width="3" />
<line x1="95.5" y1="851.2" x2="107.5" y2="851.2" stroke="#000" stroke-width="3" />
<text transform="translate(87.5,853.4) rotate(-90)" font-size="27" text-anchor="middle">0</text>
<line x1="100.5" y1="819.7" x2="107.5" y2="819.7" stroke="#000" stroke-width="3" />
<line x1="95.5" y1="788.2" x2="107.5" y2="788.2" stroke="#000" stroke-width="3" />
<text transform="translate(87.5,789.4) rotate(-90)" font-size="27" text-anchor="middle">1</text>
<line x1="100.5" y1="756.7" x2="107.5" y2="756.7" stroke="#000" stroke-width="3" />
<line x1="95.5" y1="725.2" x2="107.5" y2="725.2" stroke="#000" stroke-width="3" />
<text transform="translate(87.5,724.1) rotate(-90)" font-size="27" text-anchor="middle">2</text>
<line x1="100.5" y1="693.7" x2="107.5" y2="693.7" stroke="#000" stroke-width="3" />
<line x1="95.5" y1="662.2" x2="107.5" y2="662.2" stroke="#000" stroke-width="3" />
<text transform="translate(87.5,660.4) rotate(-90)" font-size="27" text-anchor="middle">3</text>
<text x="121.4" y="890.0" font-size="26.8">NC</text>
<text x="167.1" y="890.0" font-size="26.7">P</text>
<text x="187.0" y="897.0" font-size="19.6" font-style="italic">grac</text>
<text x="223.5" y="890.0" font-size="26.7">P</text>
<text x="244.2" y="897.0" font-size="19.6" font-style="italic">xylA</text>
<text x="286.9" y="890.0" font-size="26.7">P</text>
<text x="305.9" y="897.0" font-size="19.6" font-style="italic">tet</text>
<text x="333.7" y="890.0" font-size="26.7">P</text>
<text x="354.1" y="897.0" font-size="19.6" font-style="italic">phlF</text>
<text x="392.1" y="890.0" font-size="26.7">P</text>
<text x="411.3" y="897.0" font-size="19.6" font-style="italic">cym</text>
<text x="450.2" y="890.0" font-size="26.7">P</text>
<text x="469.1" y="897.0" font-size="19.6" font-style="italic">van</text>
<text x="505.0" y="890.0" font-size="26.7">P</text>
<text x="524.6" y="897.0" font-size="19.6" font-style="italic">betl</text>
<text x="566.3" y="890.0" font-size="26.7">P</text>
<text x="585.3" y="897.0" font-size="19.6" font-style="italic">ttg</text>
<text x="617.2" y="890.0" font-size="26.7">P</text>
<text x="636.4" y="897.0" font-size="19.6" font-style="italic">cau</text>
<text x="118.7" y="693.0" font-size="26.4" font-style="italic">E. coli</text>
<rect x="455.5" y="671.0" width="41.0" height="13.8" fill="#c9a6c1" stroke="none" stroke-width="0" rx="0" />
<rect x="455.5" y="696.8" width="41.0" height="13.2" fill="#5479ab" stroke="none" stroke-width="0" rx="0" />
<text x="519.9" y="685.7" font-size="27.1">W/o inducer</text>
<text x="519.9" y="711.3" font-size="27.0">With inducer</text>
<text transform="translate(52.3,868.2) rotate(-90)" font-size="26.6">FI/OD<tspan font-size="15.4" dy="9.2">600</tspan><tspan dy="-9.2"> (×10</tspan><tspan font-size="15.4" dy="-9.2">4</tspan><tspan dy="9.2"> a.u.)</tspan></text>
<circle cx="707.5" cy="850.4" r="3.7" fill="#e0e0e6" stroke="#000" stroke-width="1.4"/>
<circle cx="714.9" cy="850.4" r="3.7" fill="#f2f2f4" stroke="#000" stroke-width="1.4"/>
<circle cx="722.3" cy="850.4" r="3.7" fill="#e0e0e6" stroke="#000" stroke-width="1.4"/>
<circle cx="729.7" cy="850.4" r="3.7" fill="#f2f2f4" stroke="#000" stroke-width="1.4"/>
<circle cx="737.1" cy="850.4" r="3.7" fill="#e0e0e6" stroke="#000" stroke-width="1.4"/>
<circle cx="744.5" cy="850.4" r="3.7" fill="#f2f2f4" stroke="#000" stroke-width="1.4"/>
<rect x="759.4" y="844.3" width="22.4" height="6.9" fill="#c9a6c1" stroke="none" stroke-width="0" rx="0" />
<circle cx="763.2" cy="844.3" r="3.7" fill="#eeeef2" stroke="#000" stroke-width="1.4"/>
<circle cx="770.6" cy="844.3" r="3.7" fill="#eeeef2" stroke="#000" stroke-width="1.4"/>
<circle cx="778.0" cy="844.3" r="3.7" fill="#eeeef2" stroke="#000" stroke-width="1.4"/>
<rect x="781.8" y="714.5" width="22.4" height="136.7" fill="#5479ab" stroke="none" stroke-width="0" rx="0" />
<line x1="793.0" y1="696.7" x2="793.0" y2="714.5" stroke="#000" stroke-width="1.4" />
<line x1="789.0" y1="696.7" x2="797.0" y2="696.7" stroke="#000" stroke-width="1.4" />
<circle cx="786.0" cy="719.5" r="3.7" fill="#4a6c9c" stroke="#000" stroke-width="1.4"/>
<circle cx="793.0" cy="696.7" r="3.7" fill="#f4f4f6" stroke="#000" stroke-width="1.4"/>
<circle cx="800.0" cy="715.0" r="3.7" fill="#e6e6ee" stroke="#000" stroke-width="1.4"/>
<rect x="815.2" y="849.9" width="22.4" height="1.3" fill="#c9a6c1" stroke="none" stroke-width="0" rx="0" />
<circle cx="819.0" cy="849.9" r="3.7" fill="#eeeef2" stroke="#000" stroke-width="1.4"/>
<circle cx="826.4" cy="849.9" r="3.7" fill="#eeeef2" stroke="#000" stroke-width="1.4"/>
<circle cx="833.8" cy="849.9" r="3.7" fill="#eeeef2" stroke="#000" stroke-width="1.4"/>
<rect x="837.6" y="829.2" width="22.4" height="22.0" fill="#5479ab" stroke="none" stroke-width="0" rx="0" />
<circle cx="841.4" cy="831.7" r="3.7" fill="#4a6c9c" stroke="#000" stroke-width="1.4"/>
<circle cx="848.8" cy="826.7" r="3.7" fill="#f4f4f6" stroke="#000" stroke-width="1.4"/>
<circle cx="856.2" cy="829.7" r="3.7" fill="#e6e6ee" stroke="#000" stroke-width="1.4"/>
<line x1="846.3" y1="826.7" x2="851.3" y2="826.7" stroke="#000" stroke-width="1.2" />
<rect x="871.0" y="849.3" width="22.4" height="1.9" fill="#c9a6c1" stroke="none" stroke-width="0" rx="0" />
<circle cx="874.8" cy="849.3" r="3.7" fill="#eeeef2" stroke="#000" stroke-width="1.4"/>
<circle cx="882.2" cy="849.3" r="3.7" fill="#eeeef2" stroke="#000" stroke-width="1.4"/>
<circle cx="889.6" cy="849.3" r="3.7" fill="#eeeef2" stroke="#000" stroke-width="1.4"/>
<rect x="893.4" y="849.3" width="22.4" height="1.9" fill="#5479ab" stroke="none" stroke-width="0" rx="0" />
<circle cx="897.2" cy="849.3" r="3.7" fill="#eeeef2" stroke="#000" stroke-width="1.4"/>
<circle cx="904.6" cy="849.3" r="3.7" fill="#eeeef2" stroke="#000" stroke-width="1.4"/>
<circle cx="912.0" cy="849.3" r="3.7" fill="#eeeef2" stroke="#000" stroke-width="1.4"/>
<rect x="926.8" y="849.9" width="22.4" height="1.3" fill="#c9a6c1" stroke="none" stroke-width="0" rx="0" />
<circle cx="930.6" cy="849.9" r="3.7" fill="#eeeef2" stroke="#000" stroke-width="1.4"/>
<circle cx="938.0" cy="849.9" r="3.7" fill="#eeeef2" stroke="#000" stroke-width="1.4"/>
<circle cx="945.4" cy="849.9" r="3.7" fill="#eeeef2" stroke="#000" stroke-width="1.4"/>
<rect x="949.2" y="849.3" width="22.4" height="1.9" fill="#5479ab" stroke="none" stroke-width="0" rx="0" />
<circle cx="953.0" cy="849.3" r="3.7" fill="#eeeef2" stroke="#000" stroke-width="1.4"/>
<circle cx="960.4" cy="849.3" r="3.7" fill="#eeeef2" stroke="#000" stroke-width="1.4"/>
<circle cx="967.8" cy="849.3" r="3.7" fill="#eeeef2" stroke="#000" stroke-width="1.4"/>
<rect x="982.6" y="845.5" width="22.4" height="5.7" fill="#c9a6c1" stroke="none" stroke-width="0" rx="0" />
<circle cx="986.4" cy="845.5" r="3.7" fill="#eeeef2" stroke="#000" stroke-width="1.4"/>
<circle cx="993.8" cy="845.5" r="3.7" fill="#eeeef2" stroke="#000" stroke-width="1.4"/>
<circle cx="1001.2" cy="845.5" r="3.7" fill="#eeeef2" stroke="#000" stroke-width="1.4"/>
<rect x="1005.0" y="844.3" width="22.4" height="6.9" fill="#5479ab" stroke="none" stroke-width="0" rx="0" />
<circle cx="1008.8" cy="844.3" r="3.7" fill="#eeeef2" stroke="#000" stroke-width="1.4"/>
<circle cx="1016.2" cy="844.3" r="3.7" fill="#eeeef2" stroke="#000" stroke-width="1.4"/>
<circle cx="1023.6" cy="844.3" r="3.7" fill="#eeeef2" stroke="#000" stroke-width="1.4"/>
<rect x="1038.4" y="848.7" width="22.4" height="2.5" fill="#c9a6c1" stroke="none" stroke-width="0" rx="0" />
<circle cx="1042.2" cy="848.7" r="3.7" fill="#eeeef2" stroke="#000" stroke-width="1.4"/>
<circle cx="1049.6" cy="848.7" r="3.7" fill="#eeeef2" stroke="#000" stroke-width="1.4"/>
<circle cx="1057.0" cy="848.7" r="3.7" fill="#eeeef2" stroke="#000" stroke-width="1.4"/>
<rect x="1060.8" y="846.8" width="22.4" height="4.4" fill="#5479ab" stroke="none" stroke-width="0" rx="0" />
<circle cx="1064.6" cy="846.8" r="3.7" fill="#eeeef2" stroke="#000" stroke-width="1.4"/>
<circle cx="1072.0" cy="846.8" r="3.7" fill="#eeeef2" stroke="#000" stroke-width="1.4"/>
<circle cx="1079.4" cy="846.8" r="3.7" fill="#eeeef2" stroke="#000" stroke-width="1.4"/>
<rect x="1094.2" y="849.3" width="22.4" height="1.9" fill="#c9a6c1" stroke="none" stroke-width="0" rx="0" />
<circle cx="1098.0" cy="849.3" r="3.7" fill="#eeeef2" stroke="#000" stroke-width="1.4"/>
<circle cx="1105.4" cy="849.3" r="3.7" fill="#eeeef2" stroke="#000" stroke-width="1.4"/>
<circle cx="1112.8" cy="849.3" r="3.7" fill="#eeeef2" stroke="#000" stroke-width="1.4"/>
<rect x="1116.6" y="849.3" width="22.4" height="1.9" fill="#5479ab" stroke="none" stroke-width="0" rx="0" />
<circle cx="1120.4" cy="849.3" r="3.7" fill="#eeeef2" stroke="#000" stroke-width="1.4"/>
<circle cx="1127.8" cy="849.3" r="3.7" fill="#eeeef2" stroke="#000" stroke-width="1.4"/>
<circle cx="1135.2" cy="849.3" r="3.7" fill="#eeeef2" stroke="#000" stroke-width="1.4"/>
<rect x="1150.0" y="849.9" width="22.4" height="1.3" fill="#c9a6c1" stroke="none" stroke-width="0" rx="0" />
<circle cx="1153.8" cy="849.9" r="3.7" fill="#eeeef2" stroke="#000" stroke-width="1.4"/>
<circle cx="1161.2" cy="849.9" r="3.7" fill="#eeeef2" stroke="#000" stroke-width="1.4"/>
<circle cx="1168.6" cy="849.9" r="3.7" fill="#eeeef2" stroke="#000" stroke-width="1.4"/>
<rect x="1172.4" y="849.3" width="22.4" height="1.9" fill="#5479ab" stroke="none" stroke-width="0" rx="0" />
<circle cx="1176.2" cy="849.3" r="3.7" fill="#eeeef2" stroke="#000" stroke-width="1.4"/>
<circle cx="1183.6" cy="849.3" r="3.7" fill="#eeeef2" stroke="#000" stroke-width="1.4"/>
<circle cx="1191.0" cy="849.3" r="3.7" fill="#eeeef2" stroke="#000" stroke-width="1.4"/>
<rect x="1205.8" y="849.3" width="22.4" height="1.9" fill="#c9a6c1" stroke="none" stroke-width="0" rx="0" />
<circle cx="1209.6" cy="849.3" r="3.7" fill="#eeeef2" stroke="#000" stroke-width="1.4"/>
<circle cx="1217.0" cy="849.3" r="3.7" fill="#eeeef2" stroke="#000" stroke-width="1.4"/>
<circle cx="1224.4" cy="849.3" r="3.7" fill="#eeeef2" stroke="#000" stroke-width="1.4"/>
<rect x="1228.2" y="849.3" width="22.4" height="1.9" fill="#5479ab" stroke="none" stroke-width="0" rx="0" />
<circle cx="1232.0" cy="849.3" r="3.7" fill="#eeeef2" stroke="#000" stroke-width="1.4"/>
<circle cx="1239.4" cy="849.3" r="3.7" fill="#eeeef2" stroke="#000" stroke-width="1.4"/>
<circle cx="1246.8" cy="849.3" r="3.7" fill="#eeeef2" stroke="#000" stroke-width="1.4"/>
<path d="M692.6,662.3 H1262.3 V851.2 H692.6 Z" fill="none" stroke="#000" stroke-width="3.3" />
<line x1="726.0" y1="851.2" x2="726.0" y2="862.2" stroke="#000" stroke-width="3" />
<line x1="781.8" y1="851.2" x2="781.8" y2="862.2" stroke="#000" stroke-width="3" />
<line x1="837.6" y1="851.2" x2="837.6" y2="862.2" stroke="#000" stroke-width="3" />
<line x1="893.4" y1="851.2" x2="893.4" y2="862.2" stroke="#000" stroke-width="3" />
<line x1="949.2" y1="851.2" x2="949.2" y2="862.2" stroke="#000" stroke-width="3" />
<line x1="1005.0" y1="851.2" x2="1005.0" y2="862.2" stroke="#000" stroke-width="3" />
<line x1="1060.8" y1="851.2" x2="1060.8" y2="862.2" stroke="#000" stroke-width="3" />
<line x1="1116.6" y1="851.2" x2="1116.6" y2="862.2" stroke="#000" stroke-width="3" />
<line x1="1172.4" y1="851.2" x2="1172.4" y2="862.2" stroke="#000" stroke-width="3" />
<line x1="1228.2" y1="851.2" x2="1228.2" y2="862.2" stroke="#000" stroke-width="3" />
<line x1="680.6" y1="851.2" x2="692.6" y2="851.2" stroke="#000" stroke-width="3" />
<line x1="685.6" y1="819.7" x2="692.6" y2="819.7" stroke="#000" stroke-width="3" />
<line x1="680.6" y1="788.2" x2="692.6" y2="788.2" stroke="#000" stroke-width="3" />
<line x1="685.6" y1="756.7" x2="692.6" y2="756.7" stroke="#000" stroke-width="3" />
<line x1="680.6" y1="725.2" x2="692.6" y2="725.2" stroke="#000" stroke-width="3" />
<line x1="685.6" y1="693.7" x2="692.6" y2="693.7" stroke="#000" stroke-width="3" />
<line x1="680.6" y1="662.2" x2="692.6" y2="662.2" stroke="#000" stroke-width="3" />
<text x="707.4" y="890.0" font-size="26.8">NC</text>
<text x="753.1" y="890.0" font-size="26.7">P</text>
<text x="773.0" y="897.0" font-size="19.6" font-style="italic">grac</text>
<text x="809.5" y="890.0" font-size="26.7">P</text>
<text x="830.2" y="897.0" font-size="19.6" font-style="italic">xylA</text>
<text x="872.9" y="890.0" font-size="26.7">P</text>
<text x="891.9" y="897.0" font-size="19.6" font-style="italic">tet</text>
<text x="919.7" y="890.0" font-size="26.7">P</text>
<text x="940.1" y="897.0" font-size="19.6" font-style="italic">phlF</text>
<text x="978.1" y="890.0" font-size="26.7">P</text>
<text x="997.3" y="897.0" font-size="19.6" font-style="italic">cym</text>
<text x="1036.2" y="890.0" font-size="26.7">P</text>
<text x="1055.1" y="897.0" font-size="19.6" font-style="italic">van</text>
<text x="1091.0" y="890.0" font-size="26.7">P</text>
<text x="1110.6" y="897.0" font-size="19.6" font-style="italic">betl</text>
<text x="1152.3" y="890.0" font-size="26.7">P</text>
<text x="1171.3" y="897.0" font-size="19.6" font-style="italic">ttg</text>
<text x="1203.2" y="890.0" font-size="26.7">P</text>
<text x="1222.4" y="897.0" font-size="19.6" font-style="italic">cau</text>
<text x="699.4" y="693.4" font-size="26.8" font-style="italic">B. subtilis</text>
<rect x="1041.0" y="673.3" width="41.0" height="13.0" fill="#c9a6c1" stroke="none" stroke-width="0" rx="0" />
<rect x="1041.0" y="700.4" width="41.0" height="13.6" fill="#5479ab" stroke="none" stroke-width="0" rx="0" />
<text x="1105.9" y="688.2" font-size="27.1">W/o inducer</text>
<text x="1105.9" y="715.7" font-size="27.0">With inducer</text>
<text x="5.6" y="914.5" font-size="32">C</text>
<line x1="331.8" y1="925.2" x2="331.8" y2="1183.5" stroke="#000" stroke-width="2.8" stroke-dasharray="5.5,5.3"/>
<line x1="439.4" y1="925.2" x2="439.4" y2="1183.5" stroke="#000" stroke-width="2.8" stroke-dasharray="5.5,5.3"/>
<line x1="656.6" y1="925.2" x2="656.6" y2="1183.5" stroke="#000" stroke-width="2.8" stroke-dasharray="5.5,5.3"/>
<line x1="819.2" y1="925.2" x2="819.2" y2="1183.5" stroke="#000" stroke-width="2.8" stroke-dasharray="5.5,5.3"/>
<line x1="927.8" y1="925.2" x2="927.8" y2="1183.5" stroke="#000" stroke-width="2.8" stroke-dasharray="5.5,5.3"/>
<line x1="1091.0" y1="925.2" x2="1091.0" y2="1183.5" stroke="#000" stroke-width="2.8" stroke-dasharray="5.5,5.3"/>
<circle cx="121.4" cy="1182.4" r="3.5" fill="#cbd8ec" stroke="#5b7fb2" stroke-width="3.2"/>
<circle cx="129.4" cy="1182.4" r="3.5" fill="#cbd8ec" stroke="#5b7fb2" stroke-width="3.2"/>
<circle cx="137.4" cy="1182.4" r="3.5" fill="#cbd8ec" stroke="#5b7fb2" stroke-width="3.2"/>
<path d="M173.1,1185.0 V1179.8 H194.0 V1185.0" fill="none" stroke="#5b7fb2" stroke-width="3.3" />
<circle cx="175.6" cy="1179.8" r="3.5" fill="#cbd8ec" stroke="#5b7fb2" stroke-width="3.2"/>
<circle cx="183.6" cy="1179.8" r="3.5" fill="#cbd8ec" stroke="#5b7fb2" stroke-width="3.2"/>
<circle cx="191.6" cy="1179.8" r="3.5" fill="#cbd8ec" stroke="#5b7fb2" stroke-width="3.2"/>
<circle cx="200.0" cy="1181.5" r="3.5" fill="#f7d9dc" stroke="#e8949b" stroke-width="3.2"/>
<circle cx="208.0" cy="1181.5" r="3.5" fill="#f7d9dc" stroke="#e8949b" stroke-width="3.2"/>
<circle cx="216.0" cy="1181.5" r="3.5" fill="#f7d9dc" stroke="#e8949b" stroke-width="3.2"/>
<path d="M227.3,1185.0 V1169.3 H248.2 V1185.0" fill="none" stroke="#5b7fb2" stroke-width="3.3" />
<circle cx="229.8" cy="1170.8" r="3.5" fill="#cbd8ec" stroke="#5b7fb2" stroke-width="3.2"/>
<circle cx="237.8" cy="1166.3" r="3.5" fill="#cbd8ec" stroke="#5b7fb2" stroke-width="3.2"/>
<circle cx="245.8" cy="1169.8" r="3.5" fill="#cbd8ec" stroke="#5b7fb2" stroke-width="3.2"/>
<circle cx="254.2" cy="1183.3" r="3.5" fill="#f7d9dc" stroke="#e8949b" stroke-width="3.2"/>
<circle cx="262.2" cy="1183.3" r="3.5" fill="#f7d9dc" stroke="#e8949b" stroke-width="3.2"/>
<circle cx="270.2" cy="1183.3" r="3.5" fill="#f7d9dc" stroke="#e8949b" stroke-width="3.2"/>
<path d="M281.6,1185.0 V1065.7 H302.5 V1185.0" fill="none" stroke="#5b7fb2" stroke-width="3.3" />
<circle cx="284.0" cy="1067.2" r="3.5" fill="#cbd8ec" stroke="#5b7fb2" stroke-width="3.2"/>
<circle cx="292.0" cy="1062.7" r="3.5" fill="#cbd8ec" stroke="#5b7fb2" stroke-width="3.2"/>
<circle cx="300.0" cy="1066.2" r="3.5" fill="#cbd8ec" stroke="#5b7fb2" stroke-width="3.2"/>
<path d="M305.9,1185.0 V1147.5 H327.0 V1185.0" fill="none" stroke="#e8949b" stroke-width="3.3" />
<circle cx="308.4" cy="1149.0" r="3.5" fill="#f7d9dc" stroke="#e8949b" stroke-width="3.2"/>
<circle cx="316.4" cy="1144.5" r="3.5" fill="#f7d9dc" stroke="#e8949b" stroke-width="3.2"/>
<circle cx="324.4" cy="1148.0" r="3.5" fill="#f7d9dc" stroke="#e8949b" stroke-width="3.2"/>
<path d="M335.8,1185.0 V1174.5 H356.7 V1185.0" fill="none" stroke="#5b7fb2" stroke-width="3.3" />
<circle cx="338.2" cy="1176.0" r="3.5" fill="#cbd8ec" stroke="#5b7fb2" stroke-width="3.2"/>
<circle cx="346.2" cy="1171.5" r="3.5" fill="#cbd8ec" stroke="#5b7fb2" stroke-width="3.2"/>
<circle cx="354.2" cy="1175.0" r="3.5" fill="#cbd8ec" stroke="#5b7fb2" stroke-width="3.2"/>
<circle cx="362.6" cy="1182.4" r="3.5" fill="#f7d9dc" stroke="#e8949b" stroke-width="3.2"/>
<circle cx="370.6" cy="1182.4" r="3.5" fill="#f7d9dc" stroke="#e8949b" stroke-width="3.2"/>
<circle cx="378.6" cy="1182.4" r="3.5" fill="#f7d9dc" stroke="#e8949b" stroke-width="3.2"/>
<path d="M390.0,1185.0 V973.3 H410.9 V1185.0" fill="none" stroke="#5b7fb2" stroke-width="3.3" />
<circle cx="392.5" cy="974.8" r="3.5" fill="#cbd8ec" stroke="#5b7fb2" stroke-width="3.2"/>
<circle cx="400.5" cy="970.3" r="3.5" fill="#cbd8ec" stroke="#5b7fb2" stroke-width="3.2"/>
<circle cx="408.5" cy="973.8" r="3.5" fill="#cbd8ec" stroke="#5b7fb2" stroke-width="3.2"/>
<path d="M414.3,1185.0 V1155.4 H435.4 V1185.0" fill="none" stroke="#e8949b" stroke-width="3.3" />
<circle cx="416.9" cy="1156.9" r="3.5" fill="#f7d9dc" stroke="#e8949b" stroke-width="3.2"/>
<circle cx="424.9" cy="1152.4" r="3.5" fill="#f7d9dc" stroke="#e8949b" stroke-width="3.2"/>
<circle cx="432.9" cy="1155.9" r="3.5" fill="#f7d9dc" stroke="#e8949b" stroke-width="3.2"/>
<path d="M444.2,1185.0 V1177.2 H465.1 V1185.0" fill="none" stroke="#5b7fb2" stroke-width="3.3" />
<circle cx="446.7" cy="1178.7" r="3.5" fill="#cbd8ec" stroke="#5b7fb2" stroke-width="3.2"/>
<circle cx="454.7" cy="1174.2" r="3.5" fill="#cbd8ec" stroke="#5b7fb2" stroke-width="3.2"/>
<circle cx="462.7" cy="1177.7" r="3.5" fill="#cbd8ec" stroke="#5b7fb2" stroke-width="3.2"/>
<circle cx="471.1" cy="1182.4" r="3.5" fill="#f7d9dc" stroke="#e8949b" stroke-width="3.2"/>
<circle cx="479.1" cy="1182.4" r="3.5" fill="#f7d9dc" stroke="#e8949b" stroke-width="3.2"/>
<circle cx="487.1" cy="1182.4" r="3.5" fill="#f7d9dc" stroke="#e8949b" stroke-width="3.2"/>
<path d="M498.4,1185.0 V1061.3 H519.3 V1185.0" fill="none" stroke="#5b7fb2" stroke-width="3.3" />
<circle cx="500.9" cy="1062.8" r="3.5" fill="#cbd8ec" stroke="#5b7fb2" stroke-width="3.2"/>
<circle cx="508.9" cy="1058.3" r="3.5" fill="#cbd8ec" stroke="#5b7fb2" stroke-width="3.2"/>
<circle cx="516.9" cy="1061.8" r="3.5" fill="#cbd8ec" stroke="#5b7fb2" stroke-width="3.2"/>
<circle cx="525.3" cy="1182.4" r="3.5" fill="#f7d9dc" stroke="#e8949b" stroke-width="3.2"/>
<circle cx="533.3" cy="1182.4" r="3.5" fill="#f7d9dc" stroke="#e8949b" stroke-width="3.2"/>
<circle cx="541.3" cy="1182.4" r="3.5" fill="#f7d9dc" stroke="#e8949b" stroke-width="3.2"/>
<path d="M552.7,1185.0 V972.5 H573.6 V1185.0" fill="none" stroke="#5b7fb2" stroke-width="3.3" />
<circle cx="555.1" cy="974.0" r="3.5" fill="#cbd8ec" stroke="#5b7fb2" stroke-width="3.2"/>
<circle cx="563.1" cy="969.5" r="3.5" fill="#cbd8ec" stroke="#5b7fb2" stroke-width="3.2"/>
<circle cx="571.1" cy="973.0" r="3.5" fill="#cbd8ec" stroke="#5b7fb2" stroke-width="3.2"/>
<path d="M577.0,1185.0 V1146.7 H598.1 V1185.0" fill="none" stroke="#e8949b" stroke-width="3.3" />
<circle cx="579.5" cy="1148.2" r="3.5" fill="#f7d9dc" stroke="#e8949b" stroke-width="3.2"/>
<circle cx="587.5" cy="1143.7" r="3.5" fill="#f7d9dc" stroke="#e8949b" stroke-width="3.2"/>
<circle cx="595.5" cy="1147.2" r="3.5" fill="#f7d9dc" stroke="#e8949b" stroke-width="3.2"/>
<path d="M606.9,1185.0 V1009.9 H627.8 V1185.0" fill="none" stroke="#5b7fb2" stroke-width="3.3" />
<circle cx="609.3" cy="1011.4" r="3.5" fill="#cbd8ec" stroke="#5b7fb2" stroke-width="3.2"/>
<circle cx="617.3" cy="1006.9" r="3.5" fill="#cbd8ec" stroke="#5b7fb2" stroke-width="3.2"/>
<circle cx="625.3" cy="1010.4" r="3.5" fill="#cbd8ec" stroke="#5b7fb2" stroke-width="3.2"/>
<path d="M631.2,1185.0 V1146.7 H652.3 V1185.0" fill="none" stroke="#e8949b" stroke-width="3.3" />
<circle cx="633.7" cy="1148.2" r="3.5" fill="#f7d9dc" stroke="#e8949b" stroke-width="3.2"/>
<circle cx="641.7" cy="1143.7" r="3.5" fill="#f7d9dc" stroke="#e8949b" stroke-width="3.2"/>
<circle cx="649.7" cy="1147.2" r="3.5" fill="#f7d9dc" stroke="#e8949b" stroke-width="3.2"/>
<circle cx="663.5" cy="1182.4" r="3.5" fill="#cbd8ec" stroke="#5b7fb2" stroke-width="3.2"/>
<circle cx="671.5" cy="1182.4" r="3.5" fill="#cbd8ec" stroke="#5b7fb2" stroke-width="3.2"/>
<circle cx="679.5" cy="1182.4" r="3.5" fill="#cbd8ec" stroke="#5b7fb2" stroke-width="3.2"/>
<circle cx="688.0" cy="1182.4" r="3.5" fill="#f7d9dc" stroke="#e8949b" stroke-width="3.2"/>
<circle cx="696.0" cy="1182.4" r="3.5" fill="#f7d9dc" stroke="#e8949b" stroke-width="3.2"/>
<circle cx="704.0" cy="1182.4" r="3.5" fill="#f7d9dc" stroke="#e8949b" stroke-width="3.2"/>
<path d="M715.3,1185.0 V1168.5 H736.2 V1185.0" fill="none" stroke="#5b7fb2" stroke-width="3.3" />
<circle cx="717.8" cy="1170.0" r="3.5" fill="#cbd8ec" stroke="#5b7fb2" stroke-width="3.2"/>
<circle cx="725.8" cy="1165.5" r="3.5" fill="#cbd8ec" stroke="#5b7fb2" stroke-width="3.2"/>
<circle cx="733.8" cy="1169.0" r="3.5" fill="#cbd8ec" stroke="#5b7fb2" stroke-width="3.2"/>
<circle cx="742.2" cy="1183.3" r="3.5" fill="#f7d9dc" stroke="#e8949b" stroke-width="3.2"/>
<circle cx="750.2" cy="1183.3" r="3.5" fill="#f7d9dc" stroke="#e8949b" stroke-width="3.2"/>
<circle cx="758.2" cy="1183.3" r="3.5" fill="#f7d9dc" stroke="#e8949b" stroke-width="3.2"/>
<path d="M769.5,1185.0 V1027.3 H790.4 V1185.0" fill="none" stroke="#5b7fb2" stroke-width="3.3" />
<circle cx="772.0" cy="1028.8" r="3.5" fill="#cbd8ec" stroke="#5b7fb2" stroke-width="3.2"/>
<circle cx="780.0" cy="1024.3" r="3.5" fill="#cbd8ec" stroke="#5b7fb2" stroke-width="3.2"/>
<circle cx="788.0" cy="1027.8" r="3.5" fill="#cbd8ec" stroke="#5b7fb2" stroke-width="3.2"/>
<path d="M793.8,1185.0 V1152.8 H814.9 V1185.0" fill="none" stroke="#e8949b" stroke-width="3.3" />
<circle cx="796.4" cy="1154.3" r="3.5" fill="#f7d9dc" stroke="#e8949b" stroke-width="3.2"/>
<circle cx="804.4" cy="1149.8" r="3.5" fill="#f7d9dc" stroke="#e8949b" stroke-width="3.2"/>
<circle cx="812.4" cy="1153.3" r="3.5" fill="#f7d9dc" stroke="#e8949b" stroke-width="3.2"/>
<circle cx="826.2" cy="1182.4" r="3.5" fill="#cbd8ec" stroke="#5b7fb2" stroke-width="3.2"/>
<circle cx="834.2" cy="1182.4" r="3.5" fill="#cbd8ec" stroke="#5b7fb2" stroke-width="3.2"/>
<circle cx="842.2" cy="1182.4" r="3.5" fill="#cbd8ec" stroke="#5b7fb2" stroke-width="3.2"/>
<circle cx="850.6" cy="1182.4" r="3.5" fill="#f7d9dc" stroke="#e8949b" stroke-width="3.2"/>
<circle cx="858.6" cy="1182.4" r="3.5" fill="#f7d9dc" stroke="#e8949b" stroke-width="3.2"/>
<circle cx="866.6" cy="1182.4" r="3.5" fill="#f7d9dc" stroke="#e8949b" stroke-width="3.2"/>
<path d="M878.0,1185.0 V1076.1 H898.9 V1185.0" fill="none" stroke="#5b7fb2" stroke-width="3.3" />
<circle cx="880.4" cy="1077.6" r="3.5" fill="#cbd8ec" stroke="#5b7fb2" stroke-width="3.2"/>
<circle cx="888.4" cy="1073.1" r="3.5" fill="#cbd8ec" stroke="#5b7fb2" stroke-width="3.2"/>
<circle cx="896.4" cy="1076.6" r="3.5" fill="#cbd8ec" stroke="#5b7fb2" stroke-width="3.2"/>
<path d="M902.3,1185.0 V1155.4 H923.4 V1185.0" fill="none" stroke="#e8949b" stroke-width="3.3" />
<circle cx="904.8" cy="1156.9" r="3.5" fill="#f7d9dc" stroke="#e8949b" stroke-width="3.2"/>
<circle cx="912.8" cy="1152.4" r="3.5" fill="#f7d9dc" stroke="#e8949b" stroke-width="3.2"/>
<circle cx="920.8" cy="1155.9" r="3.5" fill="#f7d9dc" stroke="#e8949b" stroke-width="3.2"/>
<circle cx="934.6" cy="1182.4" r="3.5" fill="#cbd8ec" stroke="#5b7fb2" stroke-width="3.2"/>
<circle cx="942.6" cy="1182.4" r="3.5" fill="#cbd8ec" stroke="#5b7fb2" stroke-width="3.2"/>
<circle cx="950.6" cy="1182.4" r="3.5" fill="#cbd8ec" stroke="#5b7fb2" stroke-width="3.2"/>
<circle cx="959.0" cy="1181.5" r="3.5" fill="#f7d9dc" stroke="#e8949b" stroke-width="3.2"/>
<circle cx="967.0" cy="1181.5" r="3.5" fill="#f7d9dc" stroke="#e8949b" stroke-width="3.2"/>
<circle cx="975.0" cy="1181.5" r="3.5" fill="#f7d9dc" stroke="#e8949b" stroke-width="3.2"/>
<path d="M986.4,1185.0 V942.0 H1007.3 V1185.0" fill="none" stroke="#5b7fb2" stroke-width="3.3" />
<circle cx="988.9" cy="943.5" r="3.5" fill="#cbd8ec" stroke="#5b7fb2" stroke-width="3.2"/>
<circle cx="996.9" cy="939.0" r="3.5" fill="#cbd8ec" stroke="#5b7fb2" stroke-width="3.2"/>
<circle cx="1004.9" cy="942.5" r="3.5" fill="#cbd8ec" stroke="#5b7fb2" stroke-width="3.2"/>
<circle cx="1013.3" cy="1182.4" r="3.5" fill="#f7d9dc" stroke="#e8949b" stroke-width="3.2"/>
<circle cx="1021.3" cy="1182.4" r="3.5" fill="#f7d9dc" stroke="#e8949b" stroke-width="3.2"/>
<circle cx="1029.3" cy="1182.4" r="3.5" fill="#f7d9dc" stroke="#e8949b" stroke-width="3.2"/>
<path d="M1040.6,1185.0 V1010.8 H1061.5 V1185.0" fill="none" stroke="#5b7fb2" stroke-width="3.3" />
<circle cx="1043.1" cy="1012.3" r="3.5" fill="#cbd8ec" stroke="#5b7fb2" stroke-width="3.2"/>
<circle cx="1051.1" cy="1007.8" r="3.5" fill="#cbd8ec" stroke="#5b7fb2" stroke-width="3.2"/>
<circle cx="1059.1" cy="1011.3" r="3.5" fill="#cbd8ec" stroke="#5b7fb2" stroke-width="3.2"/>
<path d="M1064.9,1185.0 V1148.4 H1086.0 V1185.0" fill="none" stroke="#e8949b" stroke-width="3.3" />
<circle cx="1067.5" cy="1149.9" r="3.5" fill="#f7d9dc" stroke="#e8949b" stroke-width="3.2"/>
<circle cx="1075.5" cy="1145.4" r="3.5" fill="#f7d9dc" stroke="#e8949b" stroke-width="3.2"/>
<circle cx="1083.5" cy="1148.9" r="3.5" fill="#f7d9dc" stroke="#e8949b" stroke-width="3.2"/>
<circle cx="1097.3" cy="1182.4" r="3.5" fill="#cbd8ec" stroke="#5b7fb2" stroke-width="3.2"/>
<circle cx="1105.3" cy="1182.4" r="3.5" fill="#cbd8ec" stroke="#5b7fb2" stroke-width="3.2"/>
<circle cx="1113.3" cy="1182.4" r="3.5" fill="#cbd8ec" stroke="#5b7fb2" stroke-width="3.2"/>
<circle cx="1121.7" cy="1181.5" r="3.5" fill="#f7d9dc" stroke="#e8949b" stroke-width="3.2"/>
<circle cx="1129.7" cy="1181.5" r="3.5" fill="#f7d9dc" stroke="#e8949b" stroke-width="3.2"/>
<circle cx="1137.7" cy="1181.5" r="3.5" fill="#f7d9dc" stroke="#e8949b" stroke-width="3.2"/>
<circle cx="1151.5" cy="1181.5" r="3.5" fill="#cbd8ec" stroke="#5b7fb2" stroke-width="3.2"/>
<circle cx="1159.5" cy="1181.5" r="3.5" fill="#cbd8ec" stroke="#5b7fb2" stroke-width="3.2"/>
<circle cx="1167.5" cy="1181.5" r="3.5" fill="#cbd8ec" stroke="#5b7fb2" stroke-width="3.2"/>
<circle cx="1175.9" cy="1182.4" r="3.5" fill="#f7d9dc" stroke="#e8949b" stroke-width="3.2"/>
<circle cx="1183.9" cy="1182.4" r="3.5" fill="#f7d9dc" stroke="#e8949b" stroke-width="3.2"/>
<circle cx="1191.9" cy="1182.4" r="3.5" fill="#f7d9dc" stroke="#e8949b" stroke-width="3.2"/>
<path d="M1203.3,1185.0 V1045.6 H1224.2 V1185.0" fill="none" stroke="#5b7fb2" stroke-width="3.3" />
<circle cx="1205.8" cy="1047.1" r="3.5" fill="#cbd8ec" stroke="#5b7fb2" stroke-width="3.2"/>
<circle cx="1213.8" cy="1042.6" r="3.5" fill="#cbd8ec" stroke="#5b7fb2" stroke-width="3.2"/>
<circle cx="1221.8" cy="1046.1" r="3.5" fill="#cbd8ec" stroke="#5b7fb2" stroke-width="3.2"/>
<path d="M1227.6,1185.0 V1102.3 H1248.7 V1185.0" fill="none" stroke="#e8949b" stroke-width="3.3" />
<circle cx="1230.2" cy="1103.8" r="3.5" fill="#f7d9dc" stroke="#e8949b" stroke-width="3.2"/>
<circle cx="1238.2" cy="1099.3" r="3.5" fill="#f7d9dc" stroke="#e8949b" stroke-width="3.2"/>
<circle cx="1246.2" cy="1102.8" r="3.5" fill="#f7d9dc" stroke="#e8949b" stroke-width="3.2"/>
<path d="M106.2,923.7 H1264.3 V1185.0 H106.2 Z" fill="none" stroke="#000" stroke-width="3.2" />
<line x1="141.0" y1="1185.0" x2="141.0" y2="1197.0" stroke="#000" stroke-width="3.2" />
<line x1="195.2" y1="1185.0" x2="195.2" y2="1197.0" stroke="#000" stroke-width="3.2" />
<line x1="249.4" y1="1185.0" x2="249.4" y2="1197.0" stroke="#000" stroke-width="3.2" />
<line x1="303.7" y1="1185.0" x2="303.7" y2="1197.0" stroke="#000" stroke-width="3.2" />
<line x1="357.9" y1="1185.0" x2="357.9" y2="1197.0" stroke="#000" stroke-width="3.2" />
<line x1="412.1" y1="1185.0" x2="412.1" y2="1197.0" stroke="#000" stroke-width="3.2" />
<line x1="466.3" y1="1185.0" x2="466.3" y2="1197.0" stroke="#000" stroke-width="3.2" />
<line x1="520.5" y1="1185.0" x2="520.5" y2="1197.0" stroke="#000" stroke-width="3.2" />
<line x1="574.8" y1="1185.0" x2="574.8" y2="1197.0" stroke="#000" stroke-width="3.2" />
<line x1="629.0" y1="1185.0" x2="629.0" y2="1197.0" stroke="#000" stroke-width="3.2" />
<line x1="683.2" y1="1185.0" x2="683.2" y2="1197.0" stroke="#000" stroke-width="3.2" />
<line x1="737.4" y1="1185.0" x2="737.4" y2="1197.0" stroke="#000" stroke-width="3.2" />
<line x1="791.6" y1="1185.0" x2="791.6" y2="1197.0" stroke="#000" stroke-width="3.2" />
<line x1="845.9" y1="1185.0" x2="845.9" y2="1197.0" stroke="#000" stroke-width="3.2" />
<line x1="900.1" y1="1185.0" x2="900.1" y2="1197.0" stroke="#000" stroke-width="3.2" />
<line x1="954.3" y1="1185.0" x2="954.3" y2="1197.0" stroke="#000" stroke-width="3.2" />
<line x1="1008.5" y1="1185.0" x2="1008.5" y2="1197.0" stroke="#000" stroke-width="3.2" />
<line x1="1062.7" y1="1185.0" x2="1062.7" y2="1197.0" stroke="#000" stroke-width="3.2" />
<line x1="1117.0" y1="1185.0" x2="1117.0" y2="1197.0" stroke="#000" stroke-width="3.2" />
<line x1="1171.2" y1="1185.0" x2="1171.2" y2="1197.0" stroke="#000" stroke-width="3.2" />
<line x1="1225.4" y1="1185.0" x2="1225.4" y2="1197.0" stroke="#000" stroke-width="3.2" />
<line x1="92.2" y1="1185.0" x2="106.2" y2="1185.0" stroke="#000" stroke-width="3.2" />
<text transform="translate(84.7,1185.0) rotate(-90)" font-size="27.5" text-anchor="middle">0</text>
<line x1="98.2" y1="1141.5" x2="106.2" y2="1141.5" stroke="#000" stroke-width="3.2" />
<line x1="92.2" y1="1097.9" x2="106.2" y2="1097.9" stroke="#000" stroke-width="3.2" />
<text transform="translate(84.7,1097.9) rotate(-90)" font-size="27.5" text-anchor="middle">1</text>
<line x1="98.2" y1="1054.3" x2="106.2" y2="1054.3" stroke="#000" stroke-width="3.2" />
<line x1="92.2" y1="1010.8" x2="106.2" y2="1010.8" stroke="#000" stroke-width="3.2" />
<text transform="translate(84.7,1010.8) rotate(-90)" font-size="27.5" text-anchor="middle">2</text>
<line x1="98.2" y1="967.2" x2="106.2" y2="967.2" stroke="#000" stroke-width="3.2" />
<line x1="92.2" y1="923.7" x2="106.2" y2="923.7" stroke="#000" stroke-width="3.2" />
<text transform="translate(84.7,923.7) rotate(-90)" font-size="27.5" text-anchor="middle">3</text>
<text transform="translate(50.3,1173.3) rotate(-90)" font-size="29.3">FI/OD<tspan font-size="17" dy="9.4">600</tspan><tspan dy="-9.4"> (×10</tspan><tspan font-size="17" dy="-10.8">4</tspan><tspan dy="10.8"> a.u.)</tspan></text>
<rect x="113.5" y="937.4" width="34.0" height="16.2" fill="none" stroke="#7080a3" stroke-width="2.7" rx="0" />
<rect x="113.5" y="969.6" width="34.0" height="16.2" fill="none" stroke="#e2b0a9" stroke-width="2.7" rx="0" />
<text x="156.5" y="952.7" font-size="26.8" font-style="italic">B. subtilis</text>
<text x="155.8" y="987.3" font-size="26.9" font-style="italic">C. glutamicum</text>
<text transform="translate(151.0,1220.0) rotate(-45)" font-size="27" text-anchor="end">P<tspan font-size="19.5" font-style="italic" dx="0" dy="5.3">phlF</tspan></text>
<text transform="translate(205.2,1220.0) rotate(-45)" font-size="27" text-anchor="end">P<tspan font-size="19.5" font-style="italic" dx="0" dy="5.3">phlF1</tspan></text>
<text transform="translate(259.4,1220.0) rotate(-45)" font-size="27" text-anchor="end">P<tspan font-size="19.5" font-style="italic" dx="0" dy="5.3">phlF2</tspan></text>
<text transform="translate(313.7,1220.0) rotate(-45)" font-size="27" text-anchor="end">P<tspan font-size="19.5" font-style="italic" dx="0" dy="5.3">phlF3</tspan></text>
<text transform="translate(367.9,1220.0) rotate(-45)" font-size="27" text-anchor="end">P<tspan font-size="19.5" font-style="italic" dx="0" dy="5.3">cym</tspan></text>
<text transform="translate(422.1,1220.0) rotate(-45)" font-size="27" text-anchor="end">P<tspan font-size="19.5" font-style="italic" dx="0" dy="5.3">cym1</tspan></text>
<text transform="translate(476.3,1220.0) rotate(-45)" font-size="27" text-anchor="end">P<tspan font-size="19.5" font-style="italic" dx="0" dy="5.3">van</tspan></text>
<text transform="translate(530.5,1220.0) rotate(-45)" font-size="27" text-anchor="end">P<tspan font-size="19.5" font-style="italic" dx="0" dy="5.3">van1</tspan></text>
<text transform="translate(584.8,1220.0) rotate(-45)" font-size="27" text-anchor="end">P<tspan font-size="19.5" font-style="italic" dx="0" dy="5.3">van2</tspan></text>
<text transform="translate(639.0,1220.0) rotate(-45)" font-size="27" text-anchor="end">P<tspan font-size="19.5" font-style="italic" dx="0" dy="5.3">van3</tspan></text>
<text transform="translate(693.2,1220.0) rotate(-45)" font-size="27" text-anchor="end">P<tspan font-size="19.5" font-style="italic" dx="0" dy="5.3">betl</tspan></text>
<text transform="translate(747.4,1220.0) rotate(-45)" font-size="27" text-anchor="end">P<tspan font-size="19.5" font-style="italic" dx="0" dy="5.3">betl1</tspan></text>
<text transform="translate(801.6,1220.0) rotate(-45)" font-size="27" text-anchor="end">P<tspan font-size="19.5" font-style="italic" dx="0" dy="5.3">betl2</tspan></text>
<text transform="translate(855.9,1220.0) rotate(-45)" font-size="27" text-anchor="end">P<tspan font-size="19.5" font-style="italic" dx="0" dy="5.3">ttg</tspan></text>
<text transform="translate(910.1,1220.0) rotate(-45)" font-size="27" text-anchor="end">P<tspan font-size="19.5" font-style="italic" dx="0" dy="5.3">ttg1</tspan></text>
<text transform="translate(964.3,1220.0) rotate(-45)" font-size="27" text-anchor="end">P<tspan font-size="19.5" font-style="italic" dx="0" dy="5.3">cau</tspan></text>
<text transform="translate(1018.5,1220.0) rotate(-45)" font-size="27" text-anchor="end">P<tspan font-size="19.5" font-style="italic" dx="0" dy="5.3">cau1</tspan></text>
<text transform="translate(1072.7,1220.0) rotate(-45)" font-size="27" text-anchor="end">P<tspan font-size="19.5" font-style="italic" dx="0" dy="5.3">cau2</tspan></text>
<text transform="translate(1127.0,1220.0) rotate(-45)" font-size="27" text-anchor="end">P<tspan font-size="19.5" font-style="italic" dx="0" dy="5.3">tet</tspan></text>
<text transform="translate(1181.2,1220.0) rotate(-45)" font-size="27" text-anchor="end">P<tspan font-size="19.5" font-style="italic" dx="0" dy="5.3">tet1</tspan></text>
<text transform="translate(1235.4,1220.0) rotate(-45)" font-size="27" text-anchor="end">P<tspan font-size="19.5" font-style="italic" dx="0" dy="5.3">tet2</tspan></text>
</svg></body></html>
